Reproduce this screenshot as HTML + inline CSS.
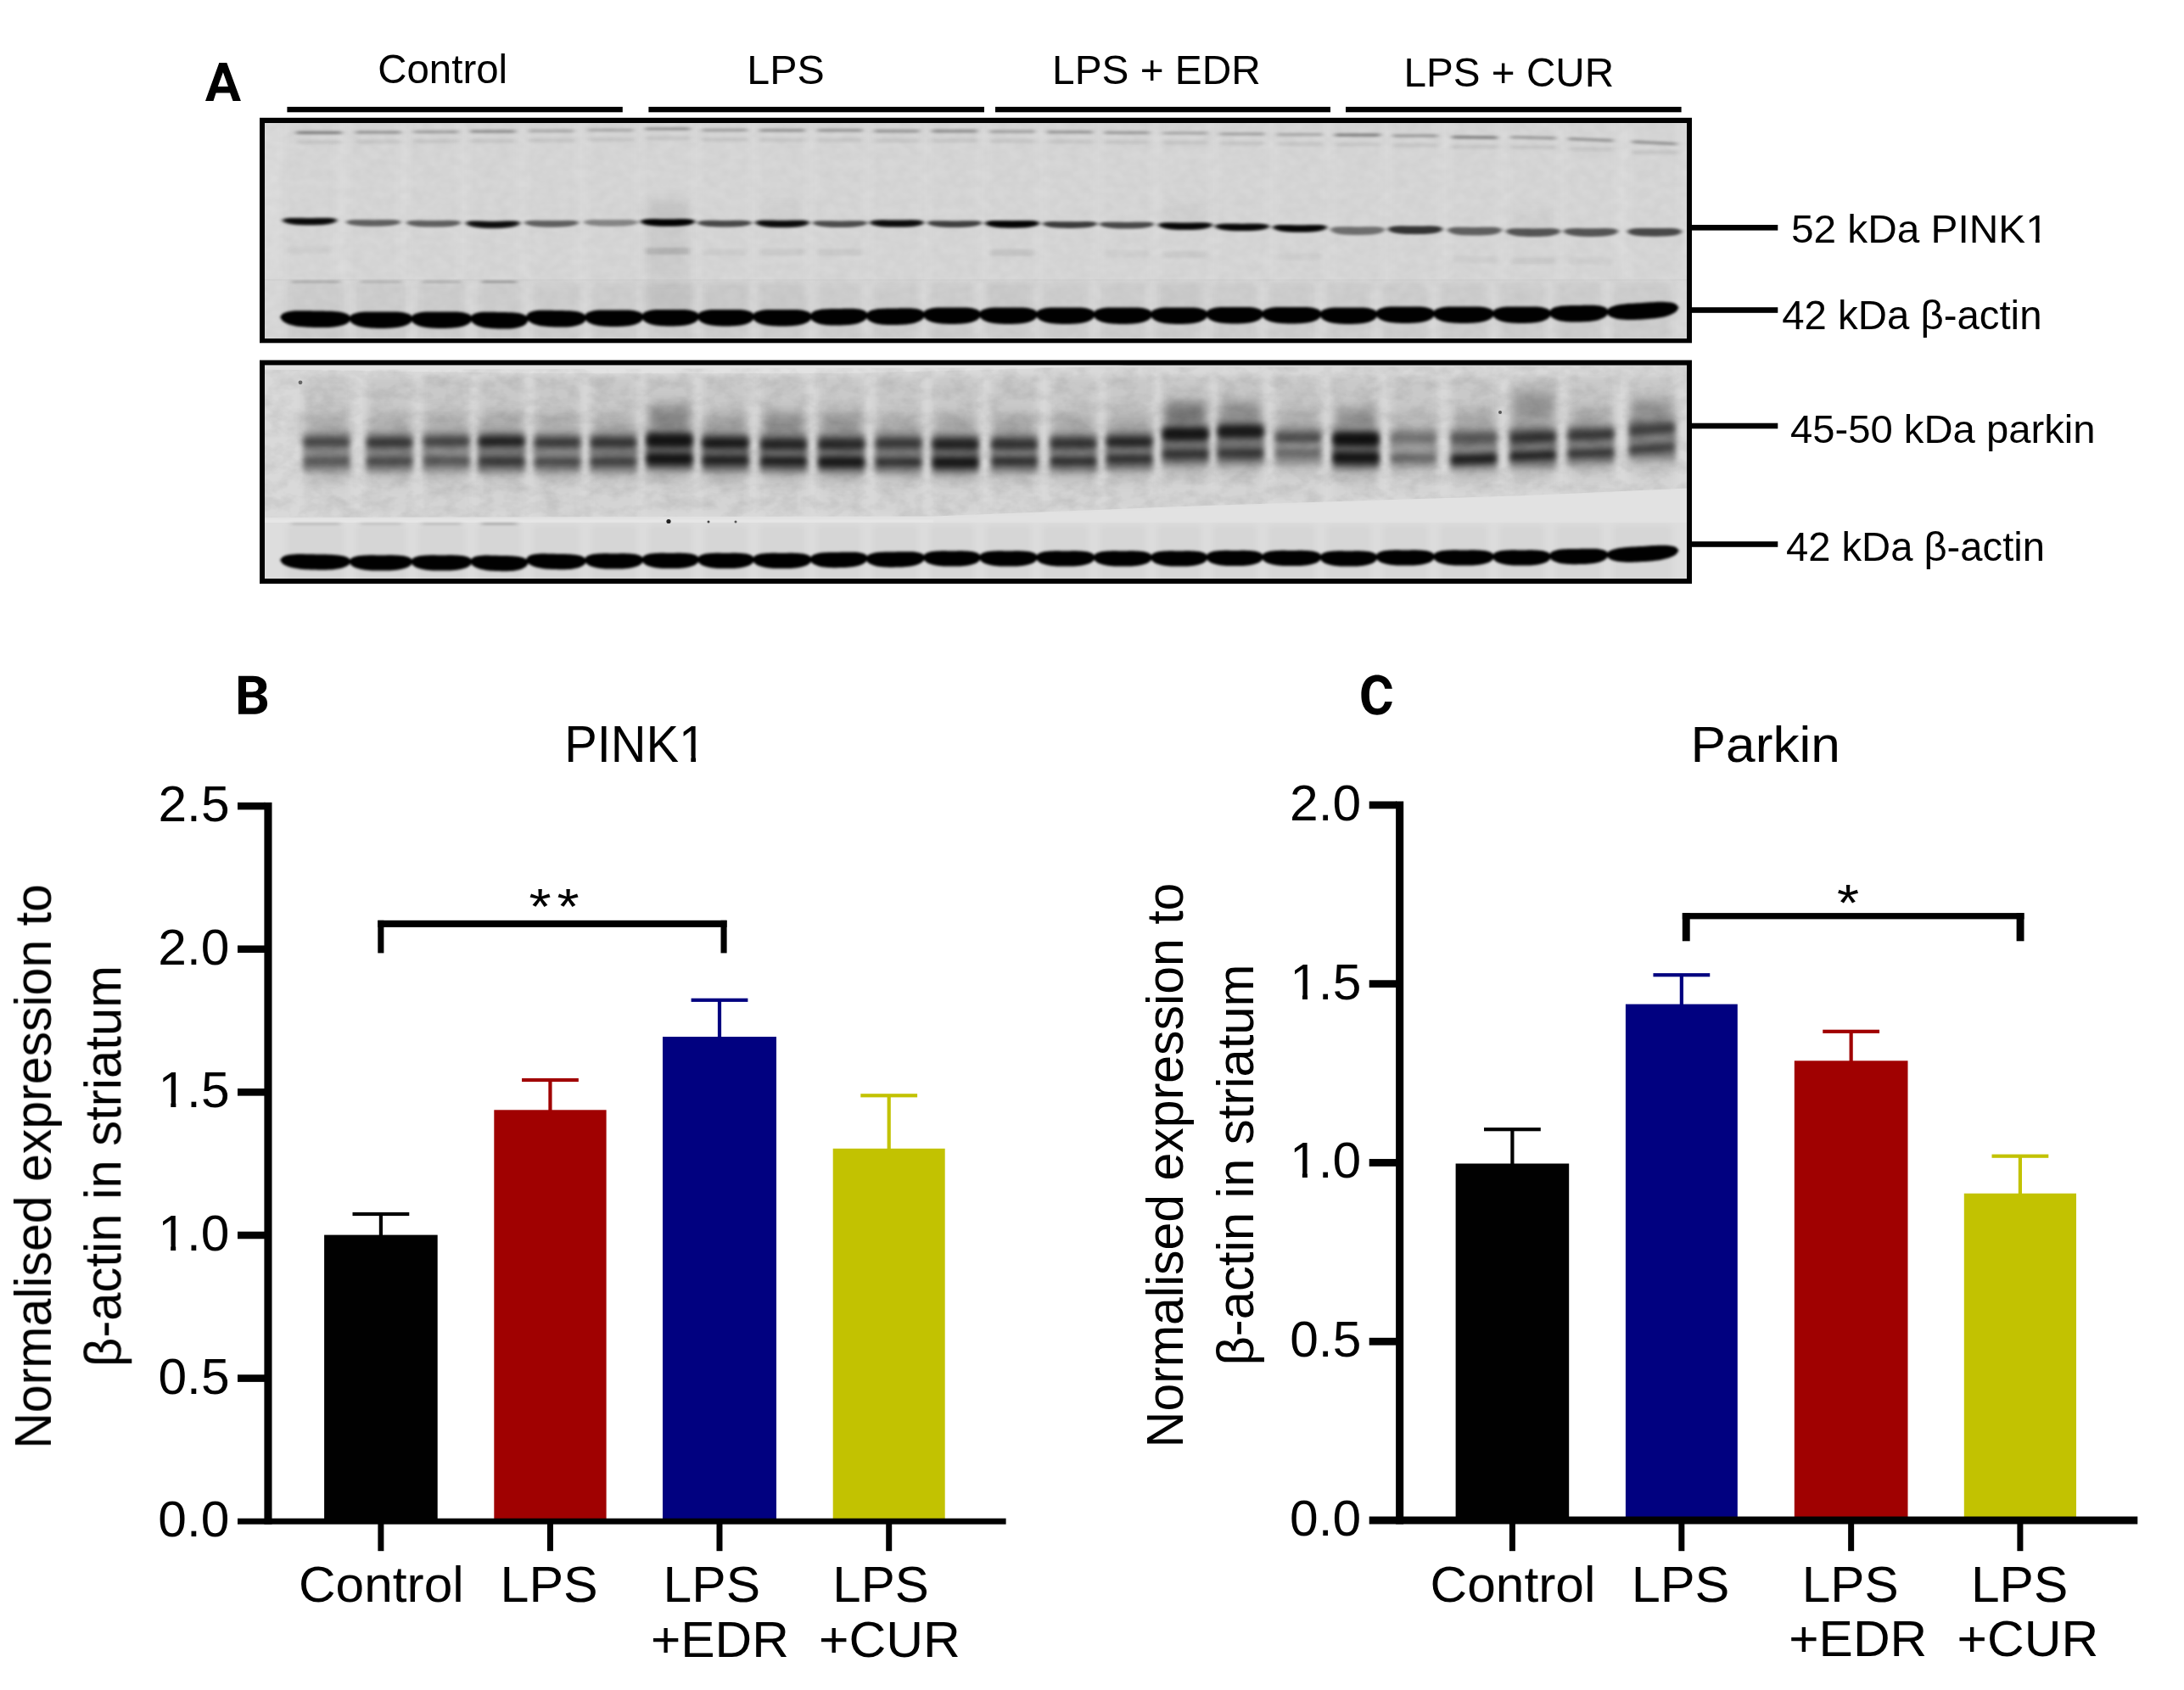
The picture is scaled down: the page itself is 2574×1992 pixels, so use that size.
<!DOCTYPE html>
<html lang="en"><head><meta charset="utf-8"><title>PINK1 / Parkin expression in striatum</title>
<style>
html,body{margin:0;padding:0;background:#fff;}
body{width:2574px;height:1992px;overflow:hidden;font-family:"Liberation Sans",sans-serif;}
svg{display:block;}
svg text{font-family:"Liberation Sans",sans-serif;font-size:100px;white-space:pre;}
</style></head>
<body>
<svg width="2574" height="1992" viewBox="0 0 2574 1992">
<rect width="2574" height="1992" fill="#fff"/>
<g style="opacity:.999">
<defs>
<clipPath id="c1"><rect x="312" y="145" width="1676" height="254"/></clipPath>
<clipPath id="cw"><path d="M312 436 L1988 431 L1988 575.5 L1800 584 L1420 596 L1100 608.5 L312 610 Z"/></clipPath>
<clipPath id="c2"><rect x="312" y="430.5" width="1676" height="251.5"/></clipPath>
<filter id="fa" filterUnits="userSpaceOnUse" x="280" y="120" width="1740" height="590"><feGaussianBlur stdDeviation="1.8 1.5"/></filter>
<filter id="fp" filterUnits="userSpaceOnUse" x="280" y="120" width="1740" height="590"><feGaussianBlur stdDeviation="2.6 1.5"/></filter>
<filter id="ft" filterUnits="userSpaceOnUse" x="280" y="120" width="1740" height="590"><feGaussianBlur stdDeviation="3.0 1.6"/></filter>
<filter id="fk" filterUnits="userSpaceOnUse" x="280" y="120" width="1740" height="590"><feGaussianBlur stdDeviation="3.4 3.0"/></filter>
<filter id="fh" filterUnits="userSpaceOnUse" x="280" y="120" width="1740" height="590"><feGaussianBlur stdDeviation="3.2 4.2"/></filter>
<filter id="fg" filterUnits="userSpaceOnUse" x="280" y="120" width="1740" height="590"><feGaussianBlur stdDeviation="6 7"/></filter>
<filter id="fs" filterUnits="userSpaceOnUse" x="280" y="120" width="1740" height="590"><feGaussianBlur stdDeviation="5 9"/></filter>
<filter id="fl" filterUnits="userSpaceOnUse" x="280" y="120" width="1740" height="590"><feGaussianBlur stdDeviation="4 3"/></filter>
<filter id="nz1" filterUnits="userSpaceOnUse" x="312" y="145" width="1676" height="254"><feTurbulence type="fractalNoise" baseFrequency="0.07 0.09" numOctaves="2" seed="7"/><feColorMatrix type="matrix" values="0 0 0 0 0  0 0 0 0 0  0 0 0 0 0  0.05 0 0 0 -0.012"/></filter>
<filter id="nz2" filterUnits="userSpaceOnUse" x="312" y="430" width="1676" height="186"><feTurbulence type="fractalNoise" baseFrequency="0.05 0.07" numOctaves="3" seed="11"/><feColorMatrix type="matrix" values="0 0 0 0 0  0 0 0 0 0  0 0 0 0 0  0.15 0 0 0 -0.055"/></filter>
</defs>
<!-- blot 1: PINK1 / beta-actin -->
<rect x="306" y="138.8" width="1688" height="265.5" fill="#000"/>
<rect x="312" y="145" width="1676" height="253.5" fill="#dcdcdc"/>
<g clip-path="url(#c1)">
<rect x="312" y="330" width="1676" height="69" fill="#d9d9d9"/>
<g filter="url(#fl)" fill="#000">
<rect x="335" y="140" width="60" height="190" opacity="0.022"/>
<rect x="338.6" y="333" width="67" height="70" opacity="0.05"/>
<rect x="410" y="140" width="60" height="190" opacity="0.022"/>
<rect x="419.6" y="333" width="58.8" height="70" opacity="0.05"/>
<rect x="481" y="140" width="60" height="190" opacity="0.022"/>
<rect x="492.4" y="333" width="56.1" height="70" opacity="0.05"/>
<rect x="551" y="140" width="60" height="190" opacity="0.022"/>
<rect x="562.5" y="333" width="51.9" height="70" opacity="0.05"/>
<rect x="620" y="140" width="60" height="190" opacity="0.022"/>
<rect x="628.4" y="333" width="54.6" height="70" opacity="0.05"/>
<rect x="690" y="140" width="60" height="190" opacity="0.022"/>
<rect x="697" y="333" width="53.4" height="70" opacity="0.05"/>
<rect x="757" y="140" width="60" height="190" opacity="0.022"/>
<rect x="764.4" y="333" width="51.6" height="70" opacity="0.05"/>
<rect x="824" y="140" width="60" height="190" opacity="0.022"/>
<rect x="830" y="333" width="51" height="70" opacity="0.05"/>
<rect x="892" y="140" width="60" height="190" opacity="0.022"/>
<rect x="895" y="333" width="53.8" height="70" opacity="0.05"/>
<rect x="960" y="140" width="60" height="190" opacity="0.022"/>
<rect x="962.8" y="333" width="51.9" height="70" opacity="0.05"/>
<rect x="1027" y="140" width="60" height="190" opacity="0.022"/>
<rect x="1028.7" y="333" width="53.3" height="70" opacity="0.05"/>
<rect x="1095" y="140" width="60" height="190" opacity="0.022"/>
<rect x="1096" y="333" width="52" height="70" opacity="0.05"/>
<rect x="1163" y="140" width="60" height="190" opacity="0.022"/>
<rect x="1162" y="333" width="53" height="70" opacity="0.05"/>
<rect x="1231" y="140" width="60" height="190" opacity="0.022"/>
<rect x="1229" y="333" width="53.6" height="70" opacity="0.05"/>
<rect x="1298" y="140" width="60" height="190" opacity="0.022"/>
<rect x="1296.6" y="333" width="53.4" height="70" opacity="0.05"/>
<rect x="1367" y="140" width="60" height="190" opacity="0.022"/>
<rect x="1364" y="333" width="51.5" height="70" opacity="0.05"/>
<rect x="1434" y="140" width="60" height="190" opacity="0.022"/>
<rect x="1429.5" y="333" width="51.5" height="70" opacity="0.05"/>
<rect x="1502" y="140" width="60" height="190" opacity="0.022"/>
<rect x="1495" y="333" width="54.6" height="70" opacity="0.05"/>
<rect x="1570" y="140" width="60" height="190" opacity="0.022"/>
<rect x="1563.6" y="333" width="51.9" height="70" opacity="0.05"/>
<rect x="1638" y="140" width="60" height="190" opacity="0.022"/>
<rect x="1629.5" y="333" width="53.5" height="70" opacity="0.05"/>
<rect x="1708" y="140" width="60" height="190" opacity="0.022"/>
<rect x="1697" y="333" width="56" height="70" opacity="0.05"/>
<rect x="1777" y="140" width="60" height="190" opacity="0.022"/>
<rect x="1767" y="333" width="53" height="70" opacity="0.05"/>
<rect x="1845" y="140" width="60" height="190" opacity="0.022"/>
<rect x="1834" y="333" width="53.5" height="70" opacity="0.05"/>
<rect x="1920" y="140" width="60" height="190" opacity="0.022"/>
<rect x="1901.5" y="333" width="68.5" height="70" opacity="0.05"/>
<rect x="757" y="333" width="60" height="34" opacity="0.05"/>
<rect x="824" y="333" width="60" height="34" opacity="0.02"/>
<rect x="892" y="333" width="60" height="34" opacity="0.02"/>
<rect x="1163" y="333" width="60" height="34" opacity="0.02"/>
<rect x="1367" y="333" width="60" height="34" opacity="0.02"/>
</g>
<rect x="312" y="329.4" width="1676" height="1" fill="#cfcfcf"/>
<rect x="312" y="145" width="1676" height="254" filter="url(#nz1)"/>
<g filter="url(#ft)" fill="#000">
<rect x="349" y="154.4" width="54" height="3.8" rx="1.9" opacity="0.39" transform="rotate(0 365 156)"/>
<rect x="349" y="165" width="54" height="5" rx="2.5" opacity="0.07"/>
<rect x="419" y="153.9" width="54" height="3.8" rx="1.9" opacity="0.28" transform="rotate(0 440 155.5)"/>
<rect x="419" y="164.5" width="54" height="5" rx="2.5" opacity="0.07"/>
<rect x="487" y="153.4" width="54" height="3.8" rx="1.9" opacity="0.24" transform="rotate(0 511 155)"/>
<rect x="487" y="164" width="54" height="5" rx="2.5" opacity="0.07"/>
<rect x="554" y="152.9" width="54" height="3.8" rx="1.9" opacity="0.31" transform="rotate(0 581 154.5)"/>
<rect x="554" y="163.5" width="54" height="5" rx="2.5" opacity="0.07"/>
<rect x="623" y="152.4" width="54" height="3.8" rx="1.9" opacity="0.20" transform="rotate(0 650 154)"/>
<rect x="623" y="163" width="54" height="5" rx="2.5" opacity="0.07"/>
<rect x="693" y="151.4" width="54" height="3.8" rx="1.9" opacity="0.20" transform="rotate(0 720 153)"/>
<rect x="693" y="162" width="54" height="5" rx="2.5" opacity="0.07"/>
<rect x="760" y="149.9" width="54" height="3.8" rx="1.9" opacity="0.28" transform="rotate(0 787 151.5)"/>
<rect x="760" y="160.5" width="54" height="5" rx="2.5" opacity="0.07"/>
<rect x="827" y="151.4" width="54" height="3.8" rx="1.9" opacity="0.24" transform="rotate(0 854 153)"/>
<rect x="827" y="162" width="54" height="5" rx="2.5" opacity="0.07"/>
<rect x="895" y="151.8" width="54" height="3.8" rx="1.9" opacity="0.29" transform="rotate(0 922 153.4)"/>
<rect x="895" y="162.4" width="54" height="5" rx="2.5" opacity="0.07"/>
<rect x="963" y="151.8" width="54" height="3.8" rx="1.9" opacity="0.28" transform="rotate(0 990 153.4)"/>
<rect x="963" y="162.4" width="54" height="5" rx="2.5" opacity="0.07"/>
<rect x="1030" y="152.6" width="54" height="3.8" rx="1.9" opacity="0.28" transform="rotate(0 1057 154.2)"/>
<rect x="1030" y="163.2" width="54" height="5" rx="2.5" opacity="0.07"/>
<rect x="1098" y="152.6" width="54" height="3.8" rx="1.9" opacity="0.31" transform="rotate(0 1125 154.2)"/>
<rect x="1098" y="163.2" width="54" height="5" rx="2.5" opacity="0.07"/>
<rect x="1166" y="153.1" width="54" height="3.8" rx="1.9" opacity="0.22" transform="rotate(0 1193 154.7)"/>
<rect x="1166" y="163.7" width="54" height="5" rx="2.5" opacity="0.07"/>
<rect x="1234" y="153.7" width="54" height="3.8" rx="1.9" opacity="0.28" transform="rotate(0 1261 155.3)"/>
<rect x="1234" y="164.3" width="54" height="5" rx="2.5" opacity="0.07"/>
<rect x="1301" y="154.4" width="54" height="3.8" rx="1.9" opacity="0.26" transform="rotate(0 1328 156)"/>
<rect x="1301" y="165" width="54" height="5" rx="2.5" opacity="0.07"/>
<rect x="1370" y="155" width="54" height="3.8" rx="1.9" opacity="0.20" transform="rotate(0 1397 156.6)"/>
<rect x="1370" y="165.6" width="54" height="5" rx="2.5" opacity="0.07"/>
<rect x="1437" y="155.9" width="54" height="3.8" rx="1.9" opacity="0.22" transform="rotate(0 1464 157.5)"/>
<rect x="1437" y="166.5" width="54" height="5" rx="2.5" opacity="0.07"/>
<rect x="1505" y="156.7" width="54" height="3.8" rx="1.9" opacity="0.20" transform="rotate(0 1532 158.3)"/>
<rect x="1505" y="167.3" width="54" height="5" rx="2.5" opacity="0.07"/>
<rect x="1573" y="157.2" width="54" height="3.8" rx="1.9" opacity="0.37" transform="rotate(0 1600 158.8)"/>
<rect x="1573" y="167.8" width="54" height="5" rx="2.5" opacity="0.07"/>
<rect x="1641" y="158.1" width="54" height="3.8" rx="1.9" opacity="0.24" transform="rotate(0 1668 159.7)"/>
<rect x="1641" y="168.7" width="54" height="5" rx="2.5" opacity="0.07"/>
<rect x="1711" y="160" width="54" height="3.8" rx="1.9" opacity="0.37" transform="rotate(0.72 1738 161.6)"/>
<rect x="1711" y="170.6" width="54" height="5" rx="2.5" opacity="0.07"/>
<rect x="1780" y="160.4" width="54" height="3.8" rx="1.9" opacity="0.26" transform="rotate(1.44 1807 162)"/>
<rect x="1780" y="171" width="54" height="5" rx="2.5" opacity="0.07"/>
<rect x="1848" y="162.7" width="54" height="3.8" rx="1.9" opacity="0.28" transform="rotate(2.16 1875 164.3)"/>
<rect x="1848" y="173.3" width="54" height="5" rx="2.5" opacity="0.07"/>
<rect x="1923" y="166.4" width="54" height="3.8" rx="1.9" opacity="0.29" transform="rotate(2.88 1950 168)"/>
<rect x="1923" y="177" width="54" height="5" rx="2.5" opacity="0.07"/>
</g>
<g filter="url(#fp)" fill="#000">
<path d="M332.5 259.62 L334.82 257.81 L337.14 257.24 L339.46 256.93 L341.79 256.76 L344.11 256.68 L346.43 256.66 L348.75 256.67 L351.07 256.71 L353.39 256.75 L355.71 256.81 L358.04 256.85 L360.36 256.89 L362.68 256.91 L365 256.92 L367.32 256.91 L369.64 256.89 L371.96 256.85 L374.29 256.81 L376.61 256.75 L378.93 256.71 L381.25 256.67 L383.57 256.66 L385.89 256.68 L388.21 256.76 L390.54 256.93 L392.86 257.24 L395.18 257.81 L397.5 259.62 L397.5 259.62 L395.18 261.88 L392.86 262.85 L390.54 263.53 L388.21 264.05 L385.89 264.44 L383.57 264.74 L381.25 264.97 L378.93 265.15 L376.61 265.28 L374.29 265.37 L371.96 265.44 L369.64 265.49 L367.32 265.51 L365 265.52 L362.68 265.51 L360.36 265.49 L358.04 265.44 L355.71 265.37 L353.39 265.28 L351.07 265.15 L348.75 264.97 L346.43 264.74 L344.11 264.44 L341.79 264.05 L339.46 263.53 L337.14 262.85 L334.82 261.88 L332.5 259.62Z" opacity="0.88"/>
<path d="M338 259.62 L339.93 258.7 L341.86 258.48 L343.79 258.39 L345.71 258.37 L347.64 258.39 L349.57 258.44 L351.5 258.5 L353.43 258.57 L355.36 258.64 L357.29 258.7 L359.21 258.75 L361.14 258.79 L363.07 258.81 L365 258.82 L366.93 258.81 L368.86 258.79 L370.79 258.75 L372.71 258.7 L374.64 258.64 L376.57 258.57 L378.5 258.5 L380.43 258.44 L382.36 258.39 L384.29 258.37 L386.21 258.39 L388.14 258.48 L390.07 258.7 L392 259.62 L392 259.62 L390.07 260.98 L388.14 261.61 L386.21 262.08 L384.29 262.44 L382.36 262.72 L380.43 262.95 L378.5 263.14 L376.57 263.28 L374.64 263.39 L372.71 263.48 L370.79 263.54 L368.86 263.59 L366.93 263.61 L365 263.62 L363.07 263.61 L361.14 263.59 L359.21 263.54 L357.29 263.48 L355.36 263.39 L353.43 263.28 L351.5 263.14 L349.57 262.95 L347.64 262.72 L345.71 262.44 L343.79 262.08 L341.86 261.61 L339.93 260.98 L338 259.62Z" opacity="0.7"/>
<path d="M407.5 261.74 L409.82 260.11 L412.14 259.58 L414.46 259.28 L416.79 259.11 L419.11 259.02 L421.43 258.98 L423.75 258.97 L426.07 258.99 L428.39 259.02 L430.71 259.06 L433.04 259.09 L435.36 259.12 L437.68 259.13 L440 259.14 L442.32 259.13 L444.64 259.12 L446.96 259.09 L449.29 259.06 L451.61 259.02 L453.93 258.99 L456.25 258.97 L458.57 258.98 L460.89 259.02 L463.21 259.11 L465.54 259.28 L467.86 259.58 L470.18 260.11 L472.5 261.74 L472.5 261.74 L470.18 263.7 L467.86 264.54 L465.54 265.12 L463.21 265.55 L460.89 265.87 L458.57 266.12 L456.25 266.31 L453.93 266.45 L451.61 266.55 L449.29 266.63 L446.96 266.68 L444.64 266.71 L442.32 266.73 L440 266.74 L437.68 266.73 L435.36 266.71 L433.04 266.68 L430.71 266.63 L428.39 266.55 L426.07 266.45 L423.75 266.31 L421.43 266.12 L419.11 265.87 L416.79 265.55 L414.46 265.12 L412.14 264.54 L409.82 263.7 L407.5 261.74Z" opacity="0.55"/>
<path d="M478.5 262.43 L480.82 260.82 L483.14 260.32 L485.46 260.05 L487.79 259.9 L490.11 259.82 L492.43 259.8 L494.75 259.81 L497.07 259.84 L499.39 259.89 L501.71 259.93 L504.04 259.97 L506.36 260 L508.68 260.02 L511 260.03 L513.32 260.02 L515.64 260 L517.96 259.97 L520.29 259.93 L522.61 259.89 L524.93 259.84 L527.25 259.81 L529.57 259.8 L531.89 259.82 L534.21 259.9 L536.54 260.05 L538.86 260.32 L541.18 260.82 L543.5 262.43 L543.5 262.43 L541.18 264.42 L538.86 265.28 L536.54 265.88 L534.21 266.34 L531.89 266.68 L529.57 266.94 L527.25 267.15 L524.93 267.3 L522.61 267.42 L520.29 267.5 L517.96 267.56 L515.64 267.6 L513.32 267.62 L511 267.63 L508.68 267.62 L506.36 267.6 L504.04 267.56 L501.71 267.5 L499.39 267.42 L497.07 267.3 L494.75 267.15 L492.43 266.94 L490.11 266.68 L487.79 266.34 L485.46 265.88 L483.14 265.28 L480.82 264.42 L478.5 262.43Z" opacity="0.55"/>
<path d="M548.5 262.79 L550.82 261.06 L553.14 260.57 L555.46 260.33 L557.79 260.22 L560.11 260.2 L562.43 260.23 L564.75 260.29 L567.07 260.37 L569.39 260.45 L571.71 260.53 L574.04 260.59 L576.36 260.65 L578.68 260.68 L581 260.69 L583.32 260.68 L585.64 260.65 L587.96 260.59 L590.29 260.53 L592.61 260.45 L594.93 260.37 L597.25 260.29 L599.57 260.23 L601.89 260.2 L604.21 260.22 L606.54 260.33 L608.86 260.57 L611.18 261.06 L613.5 262.79 L613.5 262.79 L611.18 265.13 L608.86 266.18 L606.54 266.93 L604.21 267.51 L601.89 267.96 L599.57 268.31 L597.25 268.59 L594.93 268.81 L592.61 268.97 L590.29 269.09 L587.96 269.18 L585.64 269.24 L583.32 269.28 L581 269.29 L578.68 269.28 L576.36 269.24 L574.04 269.18 L571.71 269.09 L569.39 268.97 L567.07 268.81 L564.75 268.59 L562.43 268.31 L560.11 267.96 L557.79 267.51 L555.46 266.93 L553.14 266.18 L550.82 265.13 L548.5 262.79Z" opacity="0.82"/>
<path d="M554 262.79 L555.93 261.96 L557.86 261.81 L559.79 261.79 L561.71 261.83 L563.64 261.92 L565.57 262.02 L567.5 262.12 L569.43 262.23 L571.36 262.33 L573.29 262.42 L575.21 262.49 L577.14 262.55 L579.07 262.58 L581 262.59 L582.93 262.58 L584.86 262.55 L586.79 262.49 L588.71 262.42 L590.64 262.33 L592.57 262.23 L594.5 262.12 L596.43 262.02 L598.36 261.92 L600.29 261.83 L602.21 261.79 L604.14 261.81 L606.07 261.96 L608 262.79 L608 262.79 L606.07 264.23 L604.14 264.94 L602.21 265.48 L600.29 265.9 L598.36 266.25 L596.43 266.53 L594.5 266.76 L592.57 266.94 L590.64 267.09 L588.71 267.2 L586.79 267.29 L584.86 267.34 L582.93 267.38 L581 267.39 L579.07 267.38 L577.14 267.34 L575.21 267.29 L573.29 267.2 L571.36 267.09 L569.43 266.94 L567.5 266.76 L565.57 266.53 L563.64 266.25 L561.71 265.9 L559.79 265.48 L557.86 264.94 L555.93 264.23 L554 262.79Z" opacity="0.7"/>
<path d="M617.5 262.32 L619.82 260.74 L622.14 260.26 L624.46 260.01 L626.79 259.88 L629.11 259.83 L631.43 259.83 L633.75 259.85 L636.07 259.9 L638.39 259.95 L640.71 260 L643.04 260.05 L645.36 260.09 L647.68 260.11 L650 260.12 L652.32 260.11 L654.64 260.09 L656.96 260.05 L659.29 260 L661.61 259.95 L663.93 259.9 L666.25 259.85 L668.57 259.83 L670.89 259.83 L673.21 259.88 L675.54 260.01 L677.86 260.26 L680.18 260.74 L682.5 262.32 L682.5 262.32 L680.18 264.34 L677.86 265.22 L675.54 265.85 L673.21 266.32 L670.89 266.69 L668.57 266.97 L666.25 267.19 L663.93 267.36 L661.61 267.48 L659.29 267.58 L656.96 267.64 L654.64 267.69 L652.32 267.71 L650 267.72 L647.68 267.71 L645.36 267.69 L643.04 267.64 L640.71 267.58 L638.39 267.48 L636.07 267.36 L633.75 267.19 L631.43 266.97 L629.11 266.69 L626.79 266.32 L624.46 265.85 L622.14 265.22 L619.82 264.34 L617.5 262.32Z" opacity="0.55"/>
<path d="M687.5 261.85 L689.82 260.19 L692.14 259.64 L694.46 259.31 L696.79 259.12 L699.11 259.01 L701.43 258.95 L703.75 258.93 L706.07 258.94 L708.39 258.96 L710.71 258.98 L713.04 259.01 L715.36 259.03 L717.68 259.04 L720 259.05 L722.32 259.04 L724.64 259.03 L726.96 259.01 L729.29 258.98 L731.61 258.96 L733.93 258.94 L736.25 258.93 L738.57 258.95 L740.89 259.01 L743.21 259.12 L745.54 259.31 L747.86 259.64 L750.18 260.19 L752.5 261.85 L752.5 261.85 L750.18 263.79 L747.86 264.6 L745.54 265.15 L743.21 265.56 L740.89 265.86 L738.57 266.09 L736.25 266.27 L733.93 266.4 L731.61 266.49 L729.29 266.55 L726.96 266.6 L724.64 266.63 L722.32 266.64 L720 266.65 L717.68 266.64 L715.36 266.63 L713.04 266.6 L710.71 266.55 L708.39 266.49 L706.07 266.4 L703.75 266.27 L701.43 266.09 L699.11 265.86 L696.79 265.56 L694.46 265.15 L692.14 264.6 L689.82 263.79 L687.5 261.85Z" opacity="0.38"/>
<path d="M754.5 261.13 L756.82 259.29 L759.14 258.7 L761.46 258.36 L763.79 258.17 L766.11 258.07 L768.43 258.03 L770.75 258.03 L773.07 258.05 L775.39 258.09 L777.71 258.13 L780.04 258.17 L782.36 258.2 L784.68 258.22 L787 258.23 L789.32 258.22 L791.64 258.2 L793.96 258.17 L796.29 258.13 L798.61 258.09 L800.93 258.05 L803.25 258.03 L805.57 258.03 L807.89 258.07 L810.21 258.17 L812.54 258.36 L814.86 258.7 L817.18 259.29 L819.5 261.13 L819.5 261.13 L817.18 263.36 L814.86 264.31 L812.54 264.97 L810.21 265.46 L807.89 265.83 L805.57 266.11 L803.25 266.33 L800.93 266.49 L798.61 266.61 L796.29 266.7 L793.96 266.76 L791.64 266.8 L789.32 266.82 L787 266.83 L784.68 266.82 L782.36 266.8 L780.04 266.76 L777.71 266.7 L775.39 266.61 L773.07 266.49 L770.75 266.33 L768.43 266.11 L766.11 265.83 L763.79 265.46 L761.46 264.97 L759.14 264.31 L756.82 263.36 L754.5 261.13Z" opacity="0.97"/>
<path d="M760 261.13 L761.93 260.19 L763.86 259.94 L765.79 259.82 L767.71 259.78 L769.64 259.79 L771.57 259.82 L773.5 259.86 L775.43 259.92 L777.36 259.97 L779.29 260.02 L781.21 260.07 L783.14 260.1 L785.07 260.12 L787 260.13 L788.93 260.12 L790.86 260.1 L792.79 260.07 L794.71 260.02 L796.64 259.97 L798.57 259.92 L800.5 259.86 L802.43 259.82 L804.36 259.79 L806.29 259.78 L808.21 259.82 L810.14 259.94 L812.07 260.19 L814 261.13 L814 261.13 L812.07 262.46 L810.14 263.07 L808.21 263.51 L806.29 263.85 L804.36 264.12 L802.43 264.33 L800.5 264.5 L798.57 264.63 L796.64 264.73 L794.71 264.81 L792.79 264.86 L790.86 264.9 L788.93 264.92 L787 264.93 L785.07 264.92 L783.14 264.9 L781.21 264.86 L779.29 264.81 L777.36 264.73 L775.43 264.63 L773.5 264.5 L771.57 264.33 L769.64 264.12 L767.71 263.85 L765.79 263.51 L763.86 263.07 L761.93 262.46 L760 261.13Z" opacity="0.7"/>
<path d="M821.5 262.54 L823.82 260.91 L826.14 260.38 L828.46 260.08 L830.79 259.91 L833.11 259.82 L835.43 259.78 L837.75 259.77 L840.07 259.79 L842.39 259.82 L844.71 259.86 L847.04 259.89 L849.36 259.92 L851.68 259.93 L854 259.94 L856.32 259.93 L858.64 259.92 L860.96 259.89 L863.29 259.86 L865.61 259.82 L867.93 259.79 L870.25 259.77 L872.57 259.78 L874.89 259.82 L877.21 259.91 L879.54 260.08 L881.86 260.38 L884.18 260.91 L886.5 262.54 L886.5 262.54 L884.18 264.5 L881.86 265.34 L879.54 265.92 L877.21 266.35 L874.89 266.67 L872.57 266.92 L870.25 267.11 L867.93 267.25 L865.61 267.35 L863.29 267.43 L860.96 267.48 L858.64 267.51 L856.32 267.53 L854 267.54 L851.68 267.53 L849.36 267.51 L847.04 267.48 L844.71 267.43 L842.39 267.35 L840.07 267.25 L837.75 267.11 L835.43 266.92 L833.11 266.67 L830.79 266.35 L828.46 265.92 L826.14 265.34 L823.82 264.5 L821.5 262.54Z" opacity="0.66"/>
<path d="M889.5 262.21 L891.82 260.42 L894.14 259.88 L896.46 259.6 L898.79 259.45 L901.11 259.39 L903.43 259.38 L905.75 259.41 L908.07 259.46 L910.39 259.52 L912.71 259.58 L915.04 259.63 L917.36 259.67 L919.68 259.7 L922 259.71 L924.32 259.7 L926.64 259.67 L928.96 259.63 L931.29 259.58 L933.61 259.52 L935.93 259.46 L938.25 259.41 L940.57 259.38 L942.89 259.39 L945.21 259.45 L947.54 259.6 L949.86 259.88 L952.18 260.42 L954.5 262.21 L954.5 262.21 L952.18 264.49 L949.86 265.49 L947.54 266.2 L945.21 266.73 L942.89 267.15 L940.57 267.46 L938.25 267.71 L935.93 267.9 L933.61 268.04 L931.29 268.15 L928.96 268.22 L926.64 268.27 L924.32 268.3 L922 268.31 L919.68 268.3 L917.36 268.27 L915.04 268.22 L912.71 268.15 L910.39 268.04 L908.07 267.9 L905.75 267.71 L903.43 267.46 L901.11 267.15 L898.79 266.73 L896.46 266.2 L894.14 265.49 L891.82 264.49 L889.5 262.21Z" opacity="0.86"/>
<path d="M895 262.21 L896.93 261.32 L898.86 261.12 L900.79 261.06 L902.71 261.06 L904.64 261.1 L906.57 261.17 L908.5 261.24 L910.43 261.32 L912.36 261.4 L914.29 261.47 L916.21 261.53 L918.14 261.57 L920.07 261.6 L922 261.61 L923.93 261.6 L925.86 261.57 L927.79 261.53 L929.71 261.47 L931.64 261.4 L933.57 261.32 L935.5 261.24 L937.43 261.17 L939.36 261.1 L941.29 261.06 L943.21 261.06 L945.14 261.12 L947.07 261.32 L949 262.21 L949 262.21 L947.07 263.59 L945.14 264.25 L943.21 264.74 L941.29 265.12 L939.36 265.43 L937.43 265.68 L935.5 265.88 L933.57 266.03 L931.64 266.16 L929.71 266.25 L927.79 266.32 L925.86 266.37 L923.93 266.4 L922 266.41 L920.07 266.4 L918.14 266.37 L916.21 266.32 L914.29 266.25 L912.36 266.16 L910.43 266.03 L908.5 265.88 L906.57 265.68 L904.64 265.43 L902.71 265.12 L900.79 264.74 L898.86 264.25 L896.93 263.59 L895 262.21Z" opacity="0.7"/>
<path d="M957.5 262.62 L959.82 261.04 L962.14 260.56 L964.46 260.31 L966.79 260.18 L969.11 260.13 L971.43 260.13 L973.75 260.15 L976.07 260.2 L978.39 260.25 L980.71 260.3 L983.04 260.35 L985.36 260.39 L987.68 260.41 L990 260.42 L992.32 260.41 L994.64 260.39 L996.96 260.35 L999.29 260.3 L1001.61 260.25 L1003.93 260.2 L1006.25 260.15 L1008.57 260.13 L1010.89 260.13 L1013.21 260.18 L1015.54 260.31 L1017.86 260.56 L1020.18 261.04 L1022.5 262.62 L1022.5 262.62 L1020.18 264.64 L1017.86 265.52 L1015.54 266.15 L1013.21 266.62 L1010.89 266.99 L1008.57 267.27 L1006.25 267.49 L1003.93 267.66 L1001.61 267.78 L999.29 267.88 L996.96 267.94 L994.64 267.99 L992.32 268.01 L990 268.02 L987.68 268.01 L985.36 267.99 L983.04 267.94 L980.71 267.88 L978.39 267.78 L976.07 267.66 L973.75 267.49 L971.43 267.27 L969.11 266.99 L966.79 266.62 L964.46 266.15 L962.14 265.52 L959.82 264.64 L957.5 262.62Z" opacity="0.64"/>
<path d="M1024.5 262.34 L1026.82 260.47 L1029.14 259.85 L1031.46 259.5 L1033.79 259.28 L1036.11 259.16 L1038.43 259.11 L1040.75 259.09 L1043.07 259.1 L1045.39 259.13 L1047.71 259.16 L1050.04 259.19 L1052.36 259.22 L1054.68 259.23 L1057 259.24 L1059.32 259.23 L1061.64 259.22 L1063.96 259.19 L1066.29 259.16 L1068.61 259.13 L1070.93 259.1 L1073.25 259.09 L1075.57 259.11 L1077.89 259.16 L1080.21 259.28 L1082.54 259.5 L1084.86 259.85 L1087.18 260.47 L1089.5 262.34 L1089.5 262.34 L1087.18 264.54 L1084.86 265.46 L1082.54 266.1 L1080.21 266.57 L1077.89 266.92 L1075.57 267.19 L1073.25 267.39 L1070.93 267.54 L1068.61 267.65 L1066.29 267.73 L1063.96 267.78 L1061.64 267.81 L1059.32 267.83 L1057 267.84 L1054.68 267.83 L1052.36 267.81 L1050.04 267.78 L1047.71 267.73 L1045.39 267.65 L1043.07 267.54 L1040.75 267.39 L1038.43 267.19 L1036.11 266.92 L1033.79 266.57 L1031.46 266.1 L1029.14 265.46 L1026.82 264.54 L1024.5 262.34Z" opacity="0.86"/>
<path d="M1030 262.34 L1031.93 261.37 L1033.86 261.09 L1035.79 260.96 L1037.71 260.89 L1039.64 260.88 L1041.57 260.89 L1043.5 260.92 L1045.43 260.96 L1047.36 261.01 L1049.29 261.05 L1051.21 261.09 L1053.14 261.12 L1055.07 261.13 L1057 261.14 L1058.93 261.13 L1060.86 261.12 L1062.79 261.09 L1064.71 261.05 L1066.64 261.01 L1068.57 260.96 L1070.5 260.92 L1072.43 260.89 L1074.36 260.88 L1076.29 260.89 L1078.21 260.96 L1080.14 261.09 L1082.07 261.37 L1084 262.34 L1084 262.34 L1082.07 263.64 L1080.14 264.22 L1078.21 264.64 L1076.29 264.96 L1074.36 265.21 L1072.43 265.4 L1070.5 265.56 L1068.57 265.67 L1066.64 265.77 L1064.71 265.83 L1062.79 265.88 L1060.86 265.91 L1058.93 265.93 L1057 265.94 L1055.07 265.93 L1053.14 265.91 L1051.21 265.88 L1049.29 265.83 L1047.36 265.77 L1045.43 265.67 L1043.5 265.56 L1041.57 265.4 L1039.64 265.21 L1037.71 264.96 L1035.79 264.64 L1033.86 264.22 L1031.93 263.64 L1030 262.34Z" opacity="0.7"/>
<path d="M1092.5 262.62 L1094.82 261.04 L1097.14 260.56 L1099.46 260.31 L1101.79 260.18 L1104.11 260.13 L1106.43 260.13 L1108.75 260.15 L1111.07 260.2 L1113.39 260.25 L1115.71 260.3 L1118.04 260.35 L1120.36 260.39 L1122.68 260.41 L1125 260.42 L1127.32 260.41 L1129.64 260.39 L1131.96 260.35 L1134.29 260.3 L1136.61 260.25 L1138.93 260.2 L1141.25 260.15 L1143.57 260.13 L1145.89 260.13 L1148.21 260.18 L1150.54 260.31 L1152.86 260.56 L1155.18 261.04 L1157.5 262.62 L1157.5 262.62 L1155.18 264.64 L1152.86 265.52 L1150.54 266.15 L1148.21 266.62 L1145.89 266.99 L1143.57 267.27 L1141.25 267.49 L1138.93 267.66 L1136.61 267.78 L1134.29 267.88 L1131.96 267.94 L1129.64 267.99 L1127.32 268.01 L1125 268.02 L1122.68 268.01 L1120.36 267.99 L1118.04 267.94 L1115.71 267.88 L1113.39 267.78 L1111.07 267.66 L1108.75 267.49 L1106.43 267.27 L1104.11 266.99 L1101.79 266.62 L1099.46 266.15 L1097.14 265.52 L1094.82 264.64 L1092.5 262.62Z" opacity="0.7"/>
<path d="M1160.5 263.03 L1162.82 261.19 L1165.14 260.6 L1167.46 260.26 L1169.79 260.07 L1172.11 259.97 L1174.43 259.93 L1176.75 259.93 L1179.07 259.95 L1181.39 259.99 L1183.71 260.03 L1186.04 260.07 L1188.36 260.1 L1190.68 260.12 L1193 260.13 L1195.32 260.12 L1197.64 260.1 L1199.96 260.07 L1202.29 260.03 L1204.61 259.99 L1206.93 259.95 L1209.25 259.93 L1211.57 259.93 L1213.89 259.97 L1216.21 260.07 L1218.54 260.26 L1220.86 260.6 L1223.18 261.19 L1225.5 263.03 L1225.5 263.03 L1223.18 265.26 L1220.86 266.21 L1218.54 266.87 L1216.21 267.36 L1213.89 267.73 L1211.57 268.01 L1209.25 268.23 L1206.93 268.39 L1204.61 268.51 L1202.29 268.6 L1199.96 268.66 L1197.64 268.7 L1195.32 268.72 L1193 268.73 L1190.68 268.72 L1188.36 268.7 L1186.04 268.66 L1183.71 268.6 L1181.39 268.51 L1179.07 268.39 L1176.75 268.23 L1174.43 268.01 L1172.11 267.73 L1169.79 267.36 L1167.46 266.87 L1165.14 266.21 L1162.82 265.26 L1160.5 263.03Z" opacity="0.95"/>
<path d="M1166 263.03 L1167.93 262.09 L1169.86 261.84 L1171.79 261.72 L1173.71 261.68 L1175.64 261.69 L1177.57 261.72 L1179.5 261.76 L1181.43 261.82 L1183.36 261.87 L1185.29 261.92 L1187.21 261.97 L1189.14 262 L1191.07 262.02 L1193 262.03 L1194.93 262.02 L1196.86 262 L1198.79 261.97 L1200.71 261.92 L1202.64 261.87 L1204.57 261.82 L1206.5 261.76 L1208.43 261.72 L1210.36 261.69 L1212.29 261.68 L1214.21 261.72 L1216.14 261.84 L1218.07 262.09 L1220 263.03 L1220 263.03 L1218.07 264.36 L1216.14 264.97 L1214.21 265.41 L1212.29 265.75 L1210.36 266.02 L1208.43 266.23 L1206.5 266.4 L1204.57 266.53 L1202.64 266.63 L1200.71 266.71 L1198.79 266.76 L1196.86 266.8 L1194.93 266.82 L1193 266.83 L1191.07 266.82 L1189.14 266.8 L1187.21 266.76 L1185.29 266.71 L1183.36 266.63 L1181.43 266.53 L1179.5 266.4 L1177.57 266.23 L1175.64 266.02 L1173.71 265.75 L1171.79 265.41 L1169.86 264.97 L1167.93 264.36 L1166 263.03Z" opacity="0.7"/>
<path d="M1228.5 263.73 L1230.82 262.12 L1233.14 261.62 L1235.46 261.35 L1237.79 261.2 L1240.11 261.12 L1242.43 261.1 L1244.75 261.11 L1247.07 261.14 L1249.39 261.19 L1251.71 261.23 L1254.04 261.27 L1256.36 261.3 L1258.68 261.32 L1261 261.33 L1263.32 261.32 L1265.64 261.3 L1267.96 261.27 L1270.29 261.23 L1272.61 261.19 L1274.93 261.14 L1277.25 261.11 L1279.57 261.1 L1281.89 261.12 L1284.21 261.2 L1286.54 261.35 L1288.86 261.62 L1291.18 262.12 L1293.5 263.73 L1293.5 263.73 L1291.18 265.72 L1288.86 266.58 L1286.54 267.18 L1284.21 267.64 L1281.89 267.98 L1279.57 268.24 L1277.25 268.45 L1274.93 268.6 L1272.61 268.72 L1270.29 268.8 L1267.96 268.86 L1265.64 268.9 L1263.32 268.92 L1261 268.93 L1258.68 268.92 L1256.36 268.9 L1254.04 268.86 L1251.71 268.8 L1249.39 268.72 L1247.07 268.6 L1244.75 268.45 L1242.43 268.24 L1240.11 267.98 L1237.79 267.64 L1235.46 267.18 L1233.14 266.58 L1230.82 265.72 L1228.5 263.73Z" opacity="0.72"/>
<path d="M1295.5 264.12 L1297.82 262.54 L1300.14 262.06 L1302.46 261.81 L1304.79 261.68 L1307.11 261.63 L1309.43 261.63 L1311.75 261.65 L1314.07 261.7 L1316.39 261.75 L1318.71 261.8 L1321.04 261.85 L1323.36 261.89 L1325.68 261.91 L1328 261.92 L1330.32 261.91 L1332.64 261.89 L1334.96 261.85 L1337.29 261.8 L1339.61 261.75 L1341.93 261.7 L1344.25 261.65 L1346.57 261.63 L1348.89 261.63 L1351.21 261.68 L1353.54 261.81 L1355.86 262.06 L1358.18 262.54 L1360.5 264.12 L1360.5 264.12 L1358.18 266.14 L1355.86 267.02 L1353.54 267.65 L1351.21 268.12 L1348.89 268.49 L1346.57 268.77 L1344.25 268.99 L1341.93 269.16 L1339.61 269.28 L1337.29 269.38 L1334.96 269.44 L1332.64 269.49 L1330.32 269.51 L1328 269.52 L1325.68 269.51 L1323.36 269.49 L1321.04 269.44 L1318.71 269.38 L1316.39 269.28 L1314.07 269.16 L1311.75 268.99 L1309.43 268.77 L1307.11 268.49 L1304.79 268.12 L1302.46 267.65 L1300.14 267.02 L1297.82 266.14 L1295.5 264.12Z" opacity="0.66"/>
<path d="M1364.5 265.01 L1366.82 263.22 L1369.14 262.68 L1371.46 262.4 L1373.79 262.25 L1376.11 262.19 L1378.43 262.18 L1380.75 262.21 L1383.07 262.26 L1385.39 262.32 L1387.71 262.38 L1390.04 262.43 L1392.36 262.47 L1394.68 262.5 L1397 262.51 L1399.32 262.5 L1401.64 262.47 L1403.96 262.43 L1406.29 262.38 L1408.61 262.32 L1410.93 262.26 L1413.25 262.21 L1415.57 262.18 L1417.89 262.19 L1420.21 262.25 L1422.54 262.4 L1424.86 262.68 L1427.18 263.22 L1429.5 265.01 L1429.5 265.01 L1427.18 267.29 L1424.86 268.29 L1422.54 269 L1420.21 269.53 L1417.89 269.95 L1415.57 270.26 L1413.25 270.51 L1410.93 270.7 L1408.61 270.84 L1406.29 270.95 L1403.96 271.02 L1401.64 271.07 L1399.32 271.1 L1397 271.11 L1394.68 271.1 L1392.36 271.07 L1390.04 271.02 L1387.71 270.95 L1385.39 270.84 L1383.07 270.7 L1380.75 270.51 L1378.43 270.26 L1376.11 269.95 L1373.79 269.53 L1371.46 269 L1369.14 268.29 L1366.82 267.29 L1364.5 265.01Z" opacity="0.9"/>
<path d="M1370 265.01 L1371.93 264.12 L1373.86 263.92 L1375.79 263.86 L1377.71 263.86 L1379.64 263.9 L1381.57 263.97 L1383.5 264.04 L1385.43 264.12 L1387.36 264.2 L1389.29 264.27 L1391.21 264.33 L1393.14 264.37 L1395.07 264.4 L1397 264.41 L1398.93 264.4 L1400.86 264.37 L1402.79 264.33 L1404.71 264.27 L1406.64 264.2 L1408.57 264.12 L1410.5 264.04 L1412.43 263.97 L1414.36 263.9 L1416.29 263.86 L1418.21 263.86 L1420.14 263.92 L1422.07 264.12 L1424 265.01 L1424 265.01 L1422.07 266.39 L1420.14 267.05 L1418.21 267.54 L1416.29 267.92 L1414.36 268.23 L1412.43 268.48 L1410.5 268.68 L1408.57 268.83 L1406.64 268.96 L1404.71 269.05 L1402.79 269.12 L1400.86 269.17 L1398.93 269.2 L1397 269.21 L1395.07 269.2 L1393.14 269.17 L1391.21 269.12 L1389.29 269.05 L1387.36 268.96 L1385.43 268.83 L1383.5 268.68 L1381.57 268.48 L1379.64 268.23 L1377.71 267.92 L1375.79 267.54 L1373.86 267.05 L1371.93 266.39 L1370 265.01Z" opacity="0.7"/>
<path d="M1431.5 266.74 L1433.82 264.87 L1436.14 264.25 L1438.46 263.9 L1440.79 263.68 L1443.11 263.56 L1445.43 263.51 L1447.75 263.49 L1450.07 263.5 L1452.39 263.53 L1454.71 263.56 L1457.04 263.59 L1459.36 263.62 L1461.68 263.63 L1464 263.64 L1466.32 263.63 L1468.64 263.62 L1470.96 263.59 L1473.29 263.56 L1475.61 263.53 L1477.93 263.5 L1480.25 263.49 L1482.57 263.51 L1484.89 263.56 L1487.21 263.68 L1489.54 263.9 L1491.86 264.25 L1494.18 264.87 L1496.5 266.74 L1496.5 266.74 L1494.18 268.94 L1491.86 269.86 L1489.54 270.5 L1487.21 270.97 L1484.89 271.32 L1482.57 271.59 L1480.25 271.79 L1477.93 271.94 L1475.61 272.05 L1473.29 272.13 L1470.96 272.18 L1468.64 272.21 L1466.32 272.23 L1464 272.24 L1461.68 272.23 L1459.36 272.21 L1457.04 272.18 L1454.71 272.13 L1452.39 272.05 L1450.07 271.94 L1447.75 271.79 L1445.43 271.59 L1443.11 271.32 L1440.79 270.97 L1438.46 270.5 L1436.14 269.86 L1433.82 268.94 L1431.5 266.74Z" opacity="0.9"/>
<path d="M1437 266.74 L1438.93 265.77 L1440.86 265.49 L1442.79 265.36 L1444.71 265.29 L1446.64 265.28 L1448.57 265.29 L1450.5 265.32 L1452.43 265.36 L1454.36 265.41 L1456.29 265.45 L1458.21 265.49 L1460.14 265.52 L1462.07 265.53 L1464 265.54 L1465.93 265.53 L1467.86 265.52 L1469.79 265.49 L1471.71 265.45 L1473.64 265.41 L1475.57 265.36 L1477.5 265.32 L1479.43 265.29 L1481.36 265.28 L1483.29 265.29 L1485.21 265.36 L1487.14 265.49 L1489.07 265.77 L1491 266.74 L1491 266.74 L1489.07 268.04 L1487.14 268.62 L1485.21 269.04 L1483.29 269.36 L1481.36 269.61 L1479.43 269.8 L1477.5 269.96 L1475.57 270.07 L1473.64 270.17 L1471.71 270.23 L1469.79 270.28 L1467.86 270.31 L1465.93 270.33 L1464 270.34 L1462.07 270.33 L1460.14 270.31 L1458.21 270.28 L1456.29 270.23 L1454.36 270.17 L1452.43 270.07 L1450.5 269.96 L1448.57 269.8 L1446.64 269.61 L1444.71 269.36 L1442.79 269.04 L1440.86 268.62 L1438.93 268.04 L1437 266.74Z" opacity="0.7"/>
<path d="M1499.5 267.71 L1501.82 265.92 L1504.14 265.38 L1506.46 265.1 L1508.79 264.95 L1511.11 264.89 L1513.43 264.88 L1515.75 264.91 L1518.07 264.96 L1520.39 265.02 L1522.71 265.08 L1525.04 265.13 L1527.36 265.17 L1529.68 265.2 L1532 265.21 L1534.32 265.2 L1536.64 265.17 L1538.96 265.13 L1541.29 265.08 L1543.61 265.02 L1545.93 264.96 L1548.25 264.91 L1550.57 264.88 L1552.89 264.89 L1555.21 264.95 L1557.54 265.1 L1559.86 265.38 L1562.18 265.92 L1564.5 267.71 L1564.5 267.71 L1562.18 269.99 L1559.86 270.99 L1557.54 271.7 L1555.21 272.23 L1552.89 272.65 L1550.57 272.96 L1548.25 273.21 L1545.93 273.4 L1543.61 273.54 L1541.29 273.65 L1538.96 273.72 L1536.64 273.77 L1534.32 273.8 L1532 273.81 L1529.68 273.8 L1527.36 273.77 L1525.04 273.72 L1522.71 273.65 L1520.39 273.54 L1518.07 273.4 L1515.75 273.21 L1513.43 272.96 L1511.11 272.65 L1508.79 272.23 L1506.46 271.7 L1504.14 270.99 L1501.82 269.99 L1499.5 267.71Z" opacity="0.92"/>
<path d="M1505 267.71 L1506.93 266.82 L1508.86 266.62 L1510.79 266.56 L1512.71 266.56 L1514.64 266.6 L1516.57 266.67 L1518.5 266.74 L1520.43 266.82 L1522.36 266.9 L1524.29 266.97 L1526.21 267.03 L1528.14 267.07 L1530.07 267.1 L1532 267.11 L1533.93 267.1 L1535.86 267.07 L1537.79 267.03 L1539.71 266.97 L1541.64 266.9 L1543.57 266.82 L1545.5 266.74 L1547.43 266.67 L1549.36 266.6 L1551.29 266.56 L1553.21 266.56 L1555.14 266.62 L1557.07 266.82 L1559 267.71 L1559 267.71 L1557.07 269.09 L1555.14 269.75 L1553.21 270.24 L1551.29 270.62 L1549.36 270.93 L1547.43 271.18 L1545.5 271.38 L1543.57 271.53 L1541.64 271.66 L1539.71 271.75 L1537.79 271.82 L1535.86 271.87 L1533.93 271.9 L1532 271.91 L1530.07 271.9 L1528.14 271.87 L1526.21 271.82 L1524.29 271.75 L1522.36 271.66 L1520.43 271.53 L1518.5 271.38 L1516.57 271.18 L1514.64 270.93 L1512.71 270.62 L1510.79 270.24 L1508.86 269.75 L1506.93 269.09 L1505 267.71Z" opacity="0.7"/>
<path d="M1567.5 270.62 L1569.82 268.57 L1572.14 267.91 L1574.46 267.55 L1576.79 267.34 L1579.11 267.23 L1581.43 267.19 L1583.75 267.19 L1586.07 267.22 L1588.39 267.26 L1590.71 267.31 L1593.04 267.35 L1595.36 267.39 L1597.68 267.41 L1600 267.42 L1602.32 267.41 L1604.64 267.39 L1606.96 267.35 L1609.29 267.31 L1611.61 267.26 L1613.93 267.22 L1616.25 267.19 L1618.57 267.19 L1620.89 267.23 L1623.21 267.34 L1625.54 267.55 L1627.86 267.91 L1630.18 268.57 L1632.5 270.62 L1632.5 270.62 L1630.18 273.11 L1627.86 274.18 L1625.54 274.92 L1623.21 275.47 L1620.89 275.89 L1618.57 276.21 L1616.25 276.45 L1613.93 276.64 L1611.61 276.77 L1609.29 276.87 L1606.96 276.94 L1604.64 276.99 L1602.32 277.01 L1600 277.02 L1597.68 277.01 L1595.36 276.99 L1593.04 276.94 L1590.71 276.87 L1588.39 276.77 L1586.07 276.64 L1583.75 276.45 L1581.43 276.21 L1579.11 275.89 L1576.79 275.47 L1574.46 274.92 L1572.14 274.18 L1569.82 273.11 L1567.5 270.62Z" opacity="0.48"/>
<path d="M1635.5 269.93 L1637.82 267.85 L1640.14 267.17 L1642.46 266.78 L1644.79 266.55 L1647.11 266.42 L1649.43 266.36 L1651.75 266.35 L1654.07 266.36 L1656.39 266.39 L1658.71 266.43 L1661.04 266.47 L1663.36 266.5 L1665.68 266.52 L1668 266.53 L1670.32 266.52 L1672.64 266.5 L1674.96 266.47 L1677.29 266.43 L1679.61 266.39 L1681.93 266.36 L1684.25 266.35 L1686.57 266.36 L1688.89 266.42 L1691.21 266.55 L1693.54 266.78 L1695.86 267.17 L1698.18 267.85 L1700.5 269.93 L1700.5 269.93 L1698.18 272.39 L1695.86 273.43 L1693.54 274.15 L1691.21 274.68 L1688.89 275.08 L1686.57 275.38 L1684.25 275.61 L1681.93 275.78 L1679.61 275.91 L1677.29 276 L1674.96 276.06 L1672.64 276.1 L1670.32 276.12 L1668 276.13 L1665.68 276.12 L1663.36 276.1 L1661.04 276.06 L1658.71 276 L1656.39 275.91 L1654.07 275.78 L1651.75 275.61 L1649.43 275.38 L1647.11 275.08 L1644.79 274.68 L1642.46 274.15 L1640.14 273.43 L1637.82 272.39 L1635.5 269.93Z" opacity="0.76"/>
<path d="M1705.5 271.12 L1707.82 269.07 L1710.14 268.41 L1712.46 268.05 L1714.79 267.84 L1717.11 267.73 L1719.43 267.69 L1721.75 267.69 L1724.07 267.72 L1726.39 267.76 L1728.71 267.81 L1731.04 267.85 L1733.36 267.89 L1735.68 267.91 L1738 267.92 L1740.32 267.91 L1742.64 267.89 L1744.96 267.85 L1747.29 267.81 L1749.61 267.76 L1751.93 267.72 L1754.25 267.69 L1756.57 267.69 L1758.89 267.73 L1761.21 267.84 L1763.54 268.05 L1765.86 268.41 L1768.18 269.07 L1770.5 271.12 L1770.5 271.12 L1768.18 273.61 L1765.86 274.68 L1763.54 275.42 L1761.21 275.97 L1758.89 276.39 L1756.57 276.71 L1754.25 276.95 L1751.93 277.14 L1749.61 277.27 L1747.29 277.37 L1744.96 277.44 L1742.64 277.49 L1740.32 277.51 L1738 277.52 L1735.68 277.51 L1733.36 277.49 L1731.04 277.44 L1728.71 277.37 L1726.39 277.27 L1724.07 277.14 L1721.75 276.95 L1719.43 276.71 L1717.11 276.39 L1714.79 275.97 L1712.46 275.42 L1710.14 274.68 L1707.82 273.61 L1705.5 271.12Z" opacity="0.55"/>
<path d="M1774.5 272.41 L1776.82 270.39 L1779.14 269.76 L1781.46 269.41 L1783.79 269.23 L1786.11 269.14 L1788.43 269.11 L1790.75 269.13 L1793.07 269.17 L1795.39 269.22 L1797.71 269.28 L1800.04 269.33 L1802.36 269.37 L1804.68 269.4 L1807 269.41 L1809.32 269.4 L1811.64 269.37 L1813.96 269.33 L1816.29 269.28 L1818.61 269.22 L1820.93 269.17 L1823.25 269.13 L1825.57 269.11 L1827.89 269.14 L1830.21 269.23 L1832.54 269.41 L1834.86 269.76 L1837.18 270.39 L1839.5 272.41 L1839.5 272.41 L1837.18 274.93 L1834.86 276.02 L1832.54 276.79 L1830.21 277.36 L1827.89 277.8 L1825.57 278.13 L1823.25 278.39 L1820.93 278.59 L1818.61 278.74 L1816.29 278.85 L1813.96 278.92 L1811.64 278.97 L1809.32 279 L1807 279.01 L1804.68 279 L1802.36 278.97 L1800.04 278.92 L1797.71 278.85 L1795.39 278.74 L1793.07 278.59 L1790.75 278.39 L1788.43 278.13 L1786.11 277.8 L1783.79 277.36 L1781.46 276.79 L1779.14 276.02 L1776.82 274.93 L1774.5 272.41Z" opacity="0.6"/>
<path d="M1842.5 272.52 L1844.82 270.47 L1847.14 269.81 L1849.46 269.45 L1851.79 269.24 L1854.11 269.13 L1856.43 269.09 L1858.75 269.09 L1861.07 269.12 L1863.39 269.16 L1865.71 269.21 L1868.04 269.25 L1870.36 269.29 L1872.68 269.31 L1875 269.32 L1877.32 269.31 L1879.64 269.29 L1881.96 269.25 L1884.29 269.21 L1886.61 269.16 L1888.93 269.12 L1891.25 269.09 L1893.57 269.09 L1895.89 269.13 L1898.21 269.24 L1900.54 269.45 L1902.86 269.81 L1905.18 270.47 L1907.5 272.52 L1907.5 272.52 L1905.18 275.01 L1902.86 276.08 L1900.54 276.82 L1898.21 277.37 L1895.89 277.79 L1893.57 278.11 L1891.25 278.35 L1888.93 278.54 L1886.61 278.67 L1884.29 278.77 L1881.96 278.84 L1879.64 278.89 L1877.32 278.91 L1875 278.92 L1872.68 278.91 L1870.36 278.89 L1868.04 278.84 L1865.71 278.77 L1863.39 278.67 L1861.07 278.54 L1858.75 278.35 L1856.43 278.11 L1854.11 277.79 L1851.79 277.37 L1849.46 276.82 L1847.14 276.08 L1844.82 275.01 L1842.5 272.52Z" opacity="0.6"/>
<path d="M1917.5 272.85 L1919.82 270.72 L1922.14 269.98 L1924.46 269.55 L1926.79 269.27 L1929.11 269.11 L1931.43 269.01 L1933.75 268.97 L1936.07 268.96 L1938.39 268.97 L1940.71 268.99 L1943.04 269.01 L1945.36 269.03 L1947.68 269.04 L1950 269.05 L1952.32 269.04 L1954.64 269.03 L1956.96 269.01 L1959.29 268.99 L1961.61 268.97 L1963.93 268.96 L1966.25 268.97 L1968.57 269.01 L1970.89 269.11 L1973.21 269.27 L1975.54 269.55 L1977.86 269.98 L1980.18 270.72 L1982.5 272.85 L1982.5 272.85 L1980.18 275.26 L1977.86 276.25 L1975.54 276.92 L1973.21 277.41 L1970.89 277.77 L1968.57 278.03 L1966.25 278.23 L1963.93 278.38 L1961.61 278.48 L1959.29 278.55 L1956.96 278.6 L1954.64 278.63 L1952.32 278.64 L1950 278.65 L1947.68 278.64 L1945.36 278.63 L1943.04 278.6 L1940.71 278.55 L1938.39 278.48 L1936.07 278.38 L1933.75 278.23 L1931.43 278.03 L1929.11 277.77 L1926.79 277.41 L1924.46 276.92 L1922.14 276.25 L1919.82 275.26 L1917.5 272.85Z" opacity="0.66"/>
<rect x="339" y="290.5" width="52" height="8" rx="3" opacity="0.03"/>
<rect x="761" y="291.9" width="52" height="8" rx="3" opacity="0.12"/>
<rect x="828" y="293.2" width="52" height="8" rx="3" opacity="0.04"/>
<rect x="896" y="293.2" width="52" height="8" rx="3" opacity="0.05"/>
<rect x="964" y="293.5" width="52" height="8" rx="3" opacity="0.05"/>
<rect x="1167" y="293.8" width="52" height="8" rx="3" opacity="0.08"/>
<rect x="1302" y="295" width="52" height="8" rx="3" opacity="0.03"/>
<rect x="1371" y="296" width="52" height="8" rx="3" opacity="0.05"/>
<rect x="1506" y="298.7" width="52" height="8" rx="3" opacity="0.03"/>
<rect x="1712" y="302" width="52" height="8" rx="3" opacity="0.03"/>
<rect x="1781" y="303.4" width="52" height="8" rx="3" opacity="0.05"/>
<rect x="1849" y="303.4" width="52" height="8" rx="3" opacity="0.03"/>
</g>
<g filter="url(#fg)" fill="#000">
<rect x="763" y="240" width="48" height="90" opacity="0.045"/>
<rect x="763" y="235.9" width="48" height="24" opacity="0.05"/>
<rect x="898" y="237.2" width="48" height="24" opacity="0.025"/>
<rect x="1373" y="240" width="48" height="24" opacity="0.03"/>
<rect x="1783" y="247.4" width="48" height="24" opacity="0.025"/>
</g>
<g filter="url(#fa)" fill="#000">
<path d="M330 373.82 L333.01 369.83 L336.01 368.4 L339.02 367.52 L342.03 366.94 L345.04 366.56 L348.04 366.32 L351.05 366.19 L354.06 366.14 L357.06 366.14 L360.07 366.19 L363.08 366.25 L366.09 366.33 L369.09 366.41 L372.1 366.47 L375.11 366.52 L378.11 366.56 L381.12 366.6 L384.13 366.64 L387.14 366.71 L390.14 366.82 L393.15 366.99 L396.16 367.23 L399.16 367.58 L402.17 368.08 L405.18 368.78 L408.19 369.78 L411.19 371.31 L414.2 375.42 L414.2 375.42 L411.19 379.85 L408.19 381.68 L405.18 382.95 L402.17 383.87 L399.16 384.56 L396.16 385.08 L393.15 385.45 L390.14 385.71 L387.14 385.89 L384.13 385.99 L381.12 386.04 L378.11 386.04 L375.11 386.02 L372.1 385.97 L369.09 385.9 L366.09 385.82 L363.08 385.7 L360.07 385.53 L357.06 385.32 L354.06 385.03 L351.05 384.65 L348.04 384.16 L345.04 383.53 L342.03 382.73 L339.02 381.69 L336.01 380.31 L333.01 378.37 L330 373.82Z"/>
<path d="M411 375.62 L413.71 371.57 L416.43 370.09 L419.14 369.15 L421.86 368.51 L424.57 368.07 L427.29 367.78 L430 367.59 L432.71 367.48 L435.43 367.43 L438.14 367.42 L440.86 367.43 L443.57 367.44 L446.29 367.46 L449 367.47 L451.71 367.46 L454.43 367.44 L457.14 367.43 L459.86 367.42 L462.57 367.43 L465.29 367.48 L468 367.59 L470.71 367.78 L473.43 368.07 L476.14 368.51 L478.86 369.15 L481.57 370.09 L484.29 371.57 L487 375.62 L487 375.62 L484.29 380.11 L481.57 382 L478.86 383.32 L476.14 384.3 L473.43 385.05 L470.71 385.62 L468 386.05 L465.29 386.37 L462.57 386.6 L459.86 386.76 L457.14 386.87 L454.43 386.93 L451.71 386.96 L449 386.97 L446.29 386.96 L443.57 386.93 L440.86 386.87 L438.14 386.76 L435.43 386.6 L432.71 386.37 L430 386.05 L427.29 385.62 L424.57 385.05 L421.86 384.3 L419.14 383.32 L416.43 382 L413.71 380.11 L411 375.62Z"/>
<path d="M483.8 375.62 L486.42 371.57 L489.04 370.09 L491.65 369.15 L494.27 368.51 L496.89 368.07 L499.51 367.78 L502.13 367.59 L504.74 367.48 L507.36 367.43 L509.98 367.42 L512.6 367.43 L515.21 367.44 L517.83 367.46 L520.45 367.47 L523.07 367.46 L525.69 367.44 L528.3 367.43 L530.92 367.42 L533.54 367.43 L536.16 367.48 L538.78 367.59 L541.39 367.78 L544.01 368.07 L546.63 368.51 L549.25 369.15 L551.86 370.09 L554.48 371.57 L557.1 375.62 L557.1 375.62 L554.48 380.11 L551.86 382 L549.25 383.32 L546.63 384.3 L544.01 385.05 L541.39 385.62 L538.78 386.05 L536.16 386.37 L533.54 386.6 L530.92 386.76 L528.3 386.87 L525.69 386.93 L523.07 386.96 L520.45 386.97 L517.83 386.96 L515.21 386.93 L512.6 386.87 L509.98 386.76 L507.36 386.6 L504.74 386.37 L502.13 386.05 L499.51 385.62 L496.89 385.05 L494.27 384.3 L491.65 383.32 L489.04 382 L486.42 380.11 L483.8 375.62Z"/>
<path d="M553.9 375.32 L556.37 371.33 L558.84 369.9 L561.3 369.02 L563.77 368.44 L566.24 368.06 L568.71 367.82 L571.18 367.69 L573.64 367.64 L576.11 367.64 L578.58 367.69 L581.05 367.75 L583.51 367.83 L585.98 367.91 L588.45 367.97 L590.92 368.02 L593.39 368.06 L595.85 368.1 L598.32 368.14 L600.79 368.21 L603.26 368.32 L605.73 368.49 L608.19 368.73 L610.66 369.08 L613.13 369.58 L615.6 370.28 L618.06 371.28 L620.53 372.81 L623 376.92 L623 376.92 L620.53 381.35 L618.06 383.18 L615.6 384.45 L613.13 385.37 L610.66 386.06 L608.19 386.58 L605.73 386.95 L603.26 387.21 L600.79 387.39 L598.32 387.49 L595.85 387.54 L593.39 387.54 L590.92 387.52 L588.45 387.47 L585.98 387.4 L583.51 387.32 L581.05 387.2 L578.58 387.03 L576.11 386.82 L573.64 386.53 L571.18 386.15 L568.71 385.66 L566.24 385.03 L563.77 384.23 L561.3 383.19 L558.84 381.81 L556.37 379.87 L553.9 375.32Z"/>
<path d="M619.8 373.32 L622.36 369.33 L624.93 367.9 L627.49 367.02 L630.06 366.44 L632.62 366.06 L635.19 365.82 L637.75 365.69 L640.31 365.64 L642.88 365.64 L645.44 365.69 L648.01 365.75 L650.57 365.83 L653.14 365.91 L655.7 365.97 L658.26 366.02 L660.83 366.06 L663.39 366.1 L665.96 366.14 L668.52 366.21 L671.09 366.32 L673.65 366.49 L676.21 366.73 L678.78 367.08 L681.34 367.58 L683.91 368.28 L686.47 369.28 L689.04 370.81 L691.6 374.92 L691.6 374.92 L689.04 379.35 L686.47 381.18 L683.91 382.45 L681.34 383.37 L678.78 384.06 L676.21 384.58 L673.65 384.95 L671.09 385.21 L668.52 385.39 L665.96 385.49 L663.39 385.54 L660.83 385.54 L658.26 385.52 L655.7 385.47 L653.14 385.4 L650.57 385.32 L648.01 385.2 L645.44 385.03 L642.88 384.82 L640.31 384.53 L637.75 384.15 L635.19 383.66 L632.62 383.03 L630.06 382.23 L627.49 381.19 L624.93 379.81 L622.36 377.87 L619.8 373.32Z"/>
<path d="M688.4 373.62 L690.92 369.57 L693.44 368.09 L695.96 367.15 L698.49 366.51 L701.01 366.07 L703.53 365.78 L706.05 365.59 L708.57 365.48 L711.09 365.43 L713.61 365.42 L716.14 365.43 L718.66 365.44 L721.18 365.46 L723.7 365.47 L726.22 365.46 L728.74 365.44 L731.26 365.43 L733.79 365.42 L736.31 365.43 L738.83 365.48 L741.35 365.59 L743.87 365.78 L746.39 366.07 L748.91 366.51 L751.44 367.15 L753.96 368.09 L756.48 369.57 L759 373.62 L759 373.62 L756.48 378.11 L753.96 380 L751.44 381.32 L748.91 382.3 L746.39 383.05 L743.87 383.62 L741.35 384.05 L738.83 384.37 L736.31 384.6 L733.79 384.76 L731.26 384.87 L728.74 384.93 L726.22 384.96 L723.7 384.97 L721.18 384.96 L718.66 384.93 L716.14 384.87 L713.61 384.76 L711.09 384.6 L708.57 384.37 L706.05 384.05 L703.53 383.62 L701.01 383.05 L698.49 382.3 L695.96 381.32 L693.44 380 L690.92 378.11 L688.4 373.62Z"/>
<path d="M755.8 373.12 L758.26 369.07 L760.71 367.59 L763.17 366.65 L765.63 366.01 L768.09 365.57 L770.54 365.28 L773 365.09 L775.46 364.98 L777.91 364.93 L780.37 364.92 L782.83 364.93 L785.29 364.94 L787.74 364.96 L790.2 364.97 L792.66 364.96 L795.11 364.94 L797.57 364.93 L800.03 364.92 L802.49 364.93 L804.94 364.98 L807.4 365.09 L809.86 365.28 L812.31 365.57 L814.77 366.01 L817.23 366.65 L819.69 367.59 L822.14 369.07 L824.6 373.12 L824.6 373.12 L822.14 377.61 L819.69 379.5 L817.23 380.82 L814.77 381.8 L812.31 382.55 L809.86 383.12 L807.4 383.55 L804.94 383.87 L802.49 384.1 L800.03 384.26 L797.57 384.37 L795.11 384.43 L792.66 384.46 L790.2 384.47 L787.74 384.46 L785.29 384.43 L782.83 384.37 L780.37 384.26 L777.91 384.1 L775.46 383.87 L773 383.55 L770.54 383.12 L768.09 382.55 L765.63 381.8 L763.17 380.82 L760.71 379.5 L758.26 377.61 L755.8 373.12Z"/>
<path d="M821.4 373.12 L823.84 369.07 L826.27 367.59 L828.71 366.65 L831.14 366.01 L833.58 365.57 L836.01 365.28 L838.45 365.09 L840.89 364.98 L843.32 364.93 L845.76 364.92 L848.19 364.93 L850.63 364.94 L853.06 364.96 L855.5 364.97 L857.94 364.96 L860.37 364.94 L862.81 364.93 L865.24 364.92 L867.68 364.93 L870.11 364.98 L872.55 365.09 L874.99 365.28 L877.42 365.57 L879.86 366.01 L882.29 366.65 L884.73 367.59 L887.16 369.07 L889.6 373.12 L889.6 373.12 L887.16 377.61 L884.73 379.5 L882.29 380.82 L879.86 381.8 L877.42 382.55 L874.99 383.12 L872.55 383.55 L870.11 383.87 L867.68 384.1 L865.24 384.26 L862.81 384.37 L860.37 384.43 L857.94 384.46 L855.5 384.47 L853.06 384.46 L850.63 384.43 L848.19 384.37 L845.76 384.26 L843.32 384.1 L840.89 383.87 L838.45 383.55 L836.01 383.12 L833.58 382.55 L831.14 381.8 L828.71 380.82 L826.27 379.5 L823.84 377.61 L821.4 373.12Z"/>
<path d="M886.4 373.12 L888.94 369.07 L891.47 367.59 L894.01 366.65 L896.54 366.01 L899.08 365.57 L901.61 365.28 L904.15 365.09 L906.69 364.98 L909.22 364.93 L911.76 364.92 L914.29 364.93 L916.83 364.94 L919.36 364.96 L921.9 364.97 L924.44 364.96 L926.97 364.94 L929.51 364.93 L932.04 364.92 L934.58 364.93 L937.11 364.98 L939.65 365.09 L942.19 365.28 L944.72 365.57 L947.26 366.01 L949.79 366.65 L952.33 367.59 L954.86 369.07 L957.4 373.12 L957.4 373.12 L954.86 377.61 L952.33 379.5 L949.79 380.82 L947.26 381.8 L944.72 382.55 L942.19 383.12 L939.65 383.55 L937.11 383.87 L934.58 384.1 L932.04 384.26 L929.51 384.37 L926.97 384.43 L924.44 384.46 L921.9 384.47 L919.36 384.46 L916.83 384.43 L914.29 384.37 L911.76 384.26 L909.22 384.1 L906.69 383.87 L904.15 383.55 L901.61 383.12 L899.08 382.55 L896.54 381.8 L894.01 380.82 L891.47 379.5 L888.94 377.61 L886.4 373.12Z"/>
<path d="M954.2 372.72 L956.67 368.63 L959.14 367.1 L961.6 366.12 L964.07 365.44 L966.54 364.96 L969.01 364.62 L971.48 364.39 L973.94 364.24 L976.41 364.14 L978.88 364.09 L981.35 364.05 L983.81 364.03 L986.28 364.01 L988.75 363.97 L991.22 363.92 L993.69 363.86 L996.15 363.8 L998.62 363.74 L1001.09 363.71 L1003.56 363.72 L1006.02 363.79 L1008.49 363.93 L1010.96 364.18 L1013.43 364.58 L1015.9 365.18 L1018.36 366.08 L1020.83 367.51 L1023.3 371.52 L1023.3 371.52 L1020.83 376.05 L1018.36 377.98 L1015.9 379.35 L1013.43 380.37 L1010.96 381.16 L1008.49 381.78 L1006.02 382.25 L1003.56 382.61 L1001.09 382.89 L998.62 383.09 L996.15 383.24 L993.69 383.34 L991.22 383.42 L988.75 383.47 L986.28 383.5 L983.81 383.52 L981.35 383.5 L978.88 383.43 L976.41 383.32 L973.94 383.13 L971.48 382.85 L969.01 382.46 L966.54 381.93 L964.07 381.23 L961.6 380.29 L959.14 379.01 L956.67 377.17 L954.2 372.72Z"/>
<path d="M1020.1 372.22 L1022.62 368.13 L1025.14 366.6 L1027.65 365.62 L1030.17 364.94 L1032.69 364.46 L1035.21 364.12 L1037.72 363.89 L1040.24 363.74 L1042.76 363.64 L1045.28 363.59 L1047.8 363.55 L1050.31 363.53 L1052.83 363.51 L1055.35 363.47 L1057.87 363.42 L1060.39 363.36 L1062.9 363.3 L1065.42 363.24 L1067.94 363.21 L1070.46 363.22 L1072.97 363.29 L1075.49 363.43 L1078.01 363.68 L1080.53 364.08 L1083.05 364.68 L1085.56 365.58 L1088.08 367.01 L1090.6 371.02 L1090.6 371.02 L1088.08 375.55 L1085.56 377.48 L1083.05 378.85 L1080.53 379.87 L1078.01 380.66 L1075.49 381.28 L1072.97 381.75 L1070.46 382.11 L1067.94 382.39 L1065.42 382.59 L1062.9 382.74 L1060.39 382.84 L1057.87 382.92 L1055.35 382.97 L1052.83 383 L1050.31 383.02 L1047.8 383 L1045.28 382.93 L1042.76 382.82 L1040.24 382.63 L1037.72 382.35 L1035.21 381.96 L1032.69 381.43 L1030.17 380.73 L1027.65 379.79 L1025.14 378.51 L1022.62 376.67 L1020.1 372.22Z"/>
<path d="M1087.4 370.62 L1089.87 366.57 L1092.34 365.09 L1094.81 364.15 L1097.29 363.51 L1099.76 363.07 L1102.23 362.78 L1104.7 362.59 L1107.17 362.48 L1109.64 362.43 L1112.11 362.42 L1114.59 362.43 L1117.06 362.44 L1119.53 362.46 L1122 362.47 L1124.47 362.46 L1126.94 362.44 L1129.41 362.43 L1131.89 362.42 L1134.36 362.43 L1136.83 362.48 L1139.3 362.59 L1141.77 362.78 L1144.24 363.07 L1146.71 363.51 L1149.19 364.15 L1151.66 365.09 L1154.13 366.57 L1156.6 370.62 L1156.6 370.62 L1154.13 375.11 L1151.66 377 L1149.19 378.32 L1146.71 379.3 L1144.24 380.05 L1141.77 380.62 L1139.3 381.05 L1136.83 381.37 L1134.36 381.6 L1131.89 381.76 L1129.41 381.87 L1126.94 381.93 L1124.47 381.96 L1122 381.97 L1119.53 381.96 L1117.06 381.93 L1114.59 381.87 L1112.11 381.76 L1109.64 381.6 L1107.17 381.37 L1104.7 381.05 L1102.23 380.62 L1099.76 380.05 L1097.29 379.3 L1094.81 378.32 L1092.34 377 L1089.87 375.11 L1087.4 370.62Z"/>
<path d="M1153.4 370.62 L1155.91 366.57 L1158.41 365.09 L1160.92 364.15 L1163.43 363.51 L1165.94 363.07 L1168.44 362.78 L1170.95 362.59 L1173.46 362.48 L1175.96 362.43 L1178.47 362.42 L1180.98 362.43 L1183.49 362.44 L1185.99 362.46 L1188.5 362.47 L1191.01 362.46 L1193.51 362.44 L1196.02 362.43 L1198.53 362.42 L1201.04 362.43 L1203.54 362.48 L1206.05 362.59 L1208.56 362.78 L1211.06 363.07 L1213.57 363.51 L1216.08 364.15 L1218.59 365.09 L1221.09 366.57 L1223.6 370.62 L1223.6 370.62 L1221.09 375.11 L1218.59 377 L1216.08 378.32 L1213.57 379.3 L1211.06 380.05 L1208.56 380.62 L1206.05 381.05 L1203.54 381.37 L1201.04 381.6 L1198.53 381.76 L1196.02 381.87 L1193.51 381.93 L1191.01 381.96 L1188.5 381.97 L1185.99 381.96 L1183.49 381.93 L1180.98 381.87 L1178.47 381.76 L1175.96 381.6 L1173.46 381.37 L1170.95 381.05 L1168.44 380.62 L1165.94 380.05 L1163.43 379.3 L1160.92 378.32 L1158.41 377 L1155.91 375.11 L1153.4 370.62Z"/>
<path d="M1220.4 370.62 L1222.93 366.57 L1225.46 365.09 L1227.99 364.15 L1230.51 363.51 L1233.04 363.07 L1235.57 362.78 L1238.1 362.59 L1240.63 362.48 L1243.16 362.43 L1245.69 362.42 L1248.21 362.43 L1250.74 362.44 L1253.27 362.46 L1255.8 362.47 L1258.33 362.46 L1260.86 362.44 L1263.39 362.43 L1265.91 362.42 L1268.44 362.43 L1270.97 362.48 L1273.5 362.59 L1276.03 362.78 L1278.56 363.07 L1281.09 363.51 L1283.61 364.15 L1286.14 365.09 L1288.67 366.57 L1291.2 370.62 L1291.2 370.62 L1288.67 375.11 L1286.14 377 L1283.61 378.32 L1281.09 379.3 L1278.56 380.05 L1276.03 380.62 L1273.5 381.05 L1270.97 381.37 L1268.44 381.6 L1265.91 381.76 L1263.39 381.87 L1260.86 381.93 L1258.33 381.96 L1255.8 381.97 L1253.27 381.96 L1250.74 381.93 L1248.21 381.87 L1245.69 381.76 L1243.16 381.6 L1240.63 381.37 L1238.1 381.05 L1235.57 380.62 L1233.04 380.05 L1230.51 379.3 L1227.99 378.32 L1225.46 377 L1222.93 375.11 L1220.4 370.62Z"/>
<path d="M1288 370.62 L1290.52 366.57 L1293.04 365.09 L1295.56 364.15 L1298.09 363.51 L1300.61 363.07 L1303.13 362.78 L1305.65 362.59 L1308.17 362.48 L1310.69 362.43 L1313.21 362.42 L1315.74 362.43 L1318.26 362.44 L1320.78 362.46 L1323.3 362.47 L1325.82 362.46 L1328.34 362.44 L1330.86 362.43 L1333.39 362.42 L1335.91 362.43 L1338.43 362.48 L1340.95 362.59 L1343.47 362.78 L1345.99 363.07 L1348.51 363.51 L1351.04 364.15 L1353.56 365.09 L1356.08 366.57 L1358.6 370.62 L1358.6 370.62 L1356.08 375.11 L1353.56 377 L1351.04 378.32 L1348.51 379.3 L1345.99 380.05 L1343.47 380.62 L1340.95 381.05 L1338.43 381.37 L1335.91 381.6 L1333.39 381.76 L1330.86 381.87 L1328.34 381.93 L1325.82 381.96 L1323.3 381.97 L1320.78 381.96 L1318.26 381.93 L1315.74 381.87 L1313.21 381.76 L1310.69 381.6 L1308.17 381.37 L1305.65 381.05 L1303.13 380.62 L1300.61 380.05 L1298.09 379.3 L1295.56 378.32 L1293.04 377 L1290.52 375.11 L1288 370.62Z"/>
<path d="M1355.4 370.62 L1357.85 366.57 L1360.31 365.09 L1362.76 364.15 L1365.21 363.51 L1367.67 363.07 L1370.12 362.78 L1372.58 362.59 L1375.03 362.48 L1377.48 362.43 L1379.94 362.42 L1382.39 362.43 L1384.84 362.44 L1387.3 362.46 L1389.75 362.47 L1392.2 362.46 L1394.66 362.44 L1397.11 362.43 L1399.56 362.42 L1402.02 362.43 L1404.47 362.48 L1406.92 362.59 L1409.38 362.78 L1411.83 363.07 L1414.29 363.51 L1416.74 364.15 L1419.19 365.09 L1421.65 366.57 L1424.1 370.62 L1424.1 370.62 L1421.65 375.11 L1419.19 377 L1416.74 378.32 L1414.29 379.3 L1411.83 380.05 L1409.38 380.62 L1406.92 381.05 L1404.47 381.37 L1402.02 381.6 L1399.56 381.76 L1397.11 381.87 L1394.66 381.93 L1392.2 381.96 L1389.75 381.97 L1387.3 381.96 L1384.84 381.93 L1382.39 381.87 L1379.94 381.76 L1377.48 381.6 L1375.03 381.37 L1372.58 381.05 L1370.12 380.62 L1367.67 380.05 L1365.21 379.3 L1362.76 378.32 L1360.31 377 L1357.85 375.11 L1355.4 370.62Z"/>
<path d="M1420.9 370.12 L1423.35 366.07 L1425.81 364.59 L1428.26 363.65 L1430.71 363.01 L1433.17 362.57 L1435.62 362.28 L1438.08 362.09 L1440.53 361.98 L1442.98 361.93 L1445.44 361.92 L1447.89 361.93 L1450.34 361.94 L1452.8 361.96 L1455.25 361.97 L1457.7 361.96 L1460.16 361.94 L1462.61 361.93 L1465.06 361.92 L1467.52 361.93 L1469.97 361.98 L1472.42 362.09 L1474.88 362.28 L1477.33 362.57 L1479.79 363.01 L1482.24 363.65 L1484.69 364.59 L1487.15 366.07 L1489.6 370.12 L1489.6 370.12 L1487.15 374.61 L1484.69 376.5 L1482.24 377.82 L1479.79 378.8 L1477.33 379.55 L1474.88 380.12 L1472.42 380.55 L1469.97 380.87 L1467.52 381.1 L1465.06 381.26 L1462.61 381.37 L1460.16 381.43 L1457.7 381.46 L1455.25 381.47 L1452.8 381.46 L1450.34 381.43 L1447.89 381.37 L1445.44 381.26 L1442.98 381.1 L1440.53 380.87 L1438.08 380.55 L1435.62 380.12 L1433.17 379.55 L1430.71 378.8 L1428.26 377.82 L1425.81 376.5 L1423.35 374.61 L1420.9 370.12Z"/>
<path d="M1486.4 370.12 L1488.96 366.07 L1491.53 364.59 L1494.09 363.65 L1496.66 363.01 L1499.22 362.57 L1501.79 362.28 L1504.35 362.09 L1506.91 361.98 L1509.48 361.93 L1512.04 361.92 L1514.61 361.93 L1517.17 361.94 L1519.74 361.96 L1522.3 361.97 L1524.86 361.96 L1527.43 361.94 L1529.99 361.93 L1532.56 361.92 L1535.12 361.93 L1537.69 361.98 L1540.25 362.09 L1542.81 362.28 L1545.38 362.57 L1547.94 363.01 L1550.51 363.65 L1553.07 364.59 L1555.64 366.07 L1558.2 370.12 L1558.2 370.12 L1555.64 374.61 L1553.07 376.5 L1550.51 377.82 L1547.94 378.8 L1545.38 379.55 L1542.81 380.12 L1540.25 380.55 L1537.69 380.87 L1535.12 381.1 L1532.56 381.26 L1529.99 381.37 L1527.43 381.43 L1524.86 381.46 L1522.3 381.47 L1519.74 381.46 L1517.17 381.43 L1514.61 381.37 L1512.04 381.26 L1509.48 381.1 L1506.91 380.87 L1504.35 380.55 L1501.79 380.12 L1499.22 379.55 L1496.66 378.8 L1494.09 377.82 L1491.53 376.5 L1488.96 374.61 L1486.4 370.12Z"/>
<path d="M1555 370.62 L1557.47 366.57 L1559.94 365.09 L1562.4 364.15 L1564.87 363.51 L1567.34 363.07 L1569.81 362.78 L1572.27 362.59 L1574.74 362.48 L1577.21 362.43 L1579.68 362.42 L1582.15 362.43 L1584.61 362.44 L1587.08 362.46 L1589.55 362.47 L1592.02 362.46 L1594.49 362.44 L1596.95 362.43 L1599.42 362.42 L1601.89 362.43 L1604.36 362.48 L1606.83 362.59 L1609.29 362.78 L1611.76 363.07 L1614.23 363.51 L1616.7 364.15 L1619.16 365.09 L1621.63 366.57 L1624.1 370.62 L1624.1 370.62 L1621.63 375.11 L1619.16 377 L1616.7 378.32 L1614.23 379.3 L1611.76 380.05 L1609.29 380.62 L1606.83 381.05 L1604.36 381.37 L1601.89 381.6 L1599.42 381.76 L1596.95 381.87 L1594.49 381.93 L1592.02 381.96 L1589.55 381.97 L1587.08 381.96 L1584.61 381.93 L1582.15 381.87 L1579.68 381.76 L1577.21 381.6 L1574.74 381.37 L1572.27 381.05 L1569.81 380.62 L1567.34 380.05 L1564.87 379.3 L1562.4 378.32 L1559.94 377 L1557.47 375.11 L1555 370.62Z"/>
<path d="M1620.9 369.62 L1623.42 365.57 L1625.95 364.09 L1628.47 363.15 L1631 362.51 L1633.53 362.07 L1636.05 361.78 L1638.58 361.59 L1641.1 361.48 L1643.62 361.43 L1646.15 361.42 L1648.67 361.43 L1651.2 361.44 L1653.72 361.46 L1656.25 361.47 L1658.78 361.46 L1661.3 361.44 L1663.83 361.43 L1666.35 361.42 L1668.88 361.43 L1671.4 361.48 L1673.92 361.59 L1676.45 361.78 L1678.97 362.07 L1681.5 362.51 L1684.03 363.15 L1686.55 364.09 L1689.08 365.57 L1691.6 369.62 L1691.6 369.62 L1689.08 374.11 L1686.55 376 L1684.03 377.32 L1681.5 378.3 L1678.97 379.05 L1676.45 379.62 L1673.92 380.05 L1671.4 380.37 L1668.88 380.6 L1666.35 380.76 L1663.83 380.87 L1661.3 380.93 L1658.78 380.96 L1656.25 380.97 L1653.72 380.96 L1651.2 380.93 L1648.67 380.87 L1646.15 380.76 L1643.62 380.6 L1641.1 380.37 L1638.58 380.05 L1636.05 379.62 L1633.53 379.05 L1631 378.3 L1628.47 377.32 L1625.95 376 L1623.42 374.11 L1620.9 369.62Z"/>
<path d="M1688.4 369.62 L1691.01 365.57 L1693.63 364.09 L1696.24 363.15 L1698.86 362.51 L1701.47 362.07 L1704.09 361.78 L1706.7 361.59 L1709.31 361.48 L1711.93 361.43 L1714.54 361.42 L1717.16 361.43 L1719.77 361.44 L1722.39 361.46 L1725 361.47 L1727.61 361.46 L1730.23 361.44 L1732.84 361.43 L1735.46 361.42 L1738.07 361.43 L1740.69 361.48 L1743.3 361.59 L1745.91 361.78 L1748.53 362.07 L1751.14 362.51 L1753.76 363.15 L1756.37 364.09 L1758.99 365.57 L1761.6 369.62 L1761.6 369.62 L1758.99 374.11 L1756.37 376 L1753.76 377.32 L1751.14 378.3 L1748.53 379.05 L1745.91 379.62 L1743.3 380.05 L1740.69 380.37 L1738.07 380.6 L1735.46 380.76 L1732.84 380.87 L1730.23 380.93 L1727.61 380.96 L1725 380.97 L1722.39 380.96 L1719.77 380.93 L1717.16 380.87 L1714.54 380.76 L1711.93 380.6 L1709.31 380.37 L1706.7 380.05 L1704.09 379.62 L1701.47 379.05 L1698.86 378.3 L1696.24 377.32 L1693.63 376 L1691.01 374.11 L1688.4 369.62Z"/>
<path d="M1758.4 369.62 L1760.91 365.57 L1763.41 364.09 L1765.92 363.15 L1768.43 362.51 L1770.94 362.07 L1773.44 361.78 L1775.95 361.59 L1778.46 361.48 L1780.96 361.43 L1783.47 361.42 L1785.98 361.43 L1788.49 361.44 L1790.99 361.46 L1793.5 361.47 L1796.01 361.46 L1798.51 361.44 L1801.02 361.43 L1803.53 361.42 L1806.04 361.43 L1808.54 361.48 L1811.05 361.59 L1813.56 361.78 L1816.06 362.07 L1818.57 362.51 L1821.08 363.15 L1823.59 364.09 L1826.09 365.57 L1828.6 369.62 L1828.6 369.62 L1826.09 374.11 L1823.59 376 L1821.08 377.32 L1818.57 378.3 L1816.06 379.05 L1813.56 379.62 L1811.05 380.05 L1808.54 380.37 L1806.04 380.6 L1803.53 380.76 L1801.02 380.87 L1798.51 380.93 L1796.01 380.96 L1793.5 380.97 L1790.99 380.96 L1788.49 380.93 L1785.98 380.87 L1783.47 380.76 L1780.96 380.6 L1778.46 380.37 L1775.95 380.05 L1773.44 379.62 L1770.94 379.05 L1768.43 378.3 L1765.92 377.32 L1763.41 376 L1760.91 374.11 L1758.4 369.62Z"/>
<path d="M1825.4 368.72 L1827.92 364.63 L1830.45 363.1 L1832.97 362.12 L1835.5 361.44 L1838.03 360.96 L1840.55 360.62 L1843.08 360.39 L1845.6 360.24 L1848.12 360.14 L1850.65 360.09 L1853.17 360.05 L1855.7 360.03 L1858.22 360.01 L1860.75 359.97 L1863.28 359.92 L1865.8 359.86 L1868.33 359.8 L1870.85 359.74 L1873.38 359.71 L1875.9 359.72 L1878.42 359.79 L1880.95 359.93 L1883.47 360.18 L1886 360.58 L1888.53 361.18 L1891.05 362.08 L1893.58 363.51 L1896.1 367.52 L1896.1 367.52 L1893.58 372.05 L1891.05 373.98 L1888.53 375.35 L1886 376.37 L1883.47 377.16 L1880.95 377.78 L1878.42 378.25 L1875.9 378.61 L1873.38 378.89 L1870.85 379.09 L1868.33 379.24 L1865.8 379.34 L1863.28 379.42 L1860.75 379.47 L1858.22 379.5 L1855.7 379.52 L1853.17 379.5 L1850.65 379.43 L1848.12 379.32 L1845.6 379.13 L1843.08 378.85 L1840.55 378.46 L1838.03 377.93 L1835.5 377.23 L1832.97 376.29 L1830.45 375.01 L1827.92 373.17 L1825.4 368.72Z"/>
<path d="M1892.9 367.72 L1895.96 363.49 L1899.02 361.82 L1902.08 360.69 L1905.14 359.87 L1908.2 359.24 L1911.26 358.76 L1914.33 358.39 L1917.39 358.1 L1920.45 357.86 L1923.51 357.66 L1926.57 357.48 L1929.63 357.32 L1932.69 357.15 L1935.75 356.97 L1938.81 356.78 L1941.87 356.57 L1944.93 356.37 L1947.99 356.17 L1951.05 356 L1954.11 355.87 L1957.17 355.79 L1960.24 355.79 L1963.3 355.9 L1966.36 356.15 L1969.42 356.6 L1972.48 357.36 L1975.54 358.66 L1978.6 362.52 L1978.6 362.52 L1975.54 367.19 L1972.48 369.27 L1969.42 370.77 L1966.36 371.94 L1963.3 372.88 L1960.24 373.63 L1957.17 374.25 L1954.11 374.76 L1951.05 375.17 L1947.99 375.52 L1944.93 375.81 L1941.87 376.06 L1938.81 376.28 L1935.75 376.47 L1932.69 376.65 L1929.63 376.8 L1926.57 376.93 L1923.51 377.01 L1920.45 377.03 L1917.39 376.99 L1914.33 376.85 L1911.26 376.6 L1908.2 376.22 L1905.14 375.66 L1902.08 374.86 L1899.02 373.73 L1895.96 372.02 L1892.9 367.72Z"/>
</g>
<g filter="url(#ft)" fill="#000">
<rect x="343.6" y="331" width="57" height="2.2" opacity="0.25"/>
<rect x="424.6" y="331" width="48.8" height="2.2" opacity="0.2"/>
<rect x="497.4" y="331" width="46.1" height="2.2" opacity="0.22"/>
<rect x="567.5" y="331" width="41.9" height="2.2" opacity="0.35"/>
</g>
</g>
<!-- blot 2: parkin / beta-actin -->
<rect x="306" y="424.5" width="1688" height="263.5" fill="#000"/>
<rect x="312" y="430.5" width="1676" height="251.5" fill="#d9d9d9"/>
<g clip-path="url(#c2)">
<path d="M312 430.5 L1330 430.5 L1180 435.5 L1000 440 L640 440 L312 435.5 Z" fill="#e2e2e2"/>
<rect x="312" y="616" width="1676" height="66" fill="#dddddd"/>
<path d="M312 610 L1100 608.5 L1420 596 L1800 584 L1988 575.5 L1988 616 L312 616 Z" fill="#e2e2e2"/>
<rect x="312" y="612.5" width="788" height="3.5" fill="#e6e6e6"/>
<g filter="url(#fl)" fill="#000">
<rect x="358" y="444" width="54" height="77.6" opacity="0.07"/>
<rect x="358" y="543.6" width="54" height="62.4" opacity="0.02"/>
<rect x="338.6" y="619" width="67" height="70" opacity="0.03"/>
<rect x="432" y="444" width="54" height="78" opacity="0.07"/>
<rect x="432" y="543.6" width="54" height="62.4" opacity="0.02"/>
<rect x="419.6" y="619" width="58.8" height="70" opacity="0.03"/>
<rect x="499" y="444" width="54" height="77" opacity="0.07"/>
<rect x="499" y="543" width="54" height="63" opacity="0.02"/>
<rect x="492.4" y="619" width="56.1" height="70" opacity="0.03"/>
<rect x="564" y="444" width="54" height="76.5" opacity="0.07"/>
<rect x="564" y="543.6" width="54" height="62.4" opacity="0.02"/>
<rect x="562.5" y="619" width="51.9" height="70" opacity="0.03"/>
<rect x="630" y="444" width="54" height="78" opacity="0.07"/>
<rect x="630" y="544" width="54" height="62" opacity="0.02"/>
<rect x="628.4" y="619" width="54.6" height="70" opacity="0.03"/>
<rect x="696" y="444" width="54" height="78" opacity="0.07"/>
<rect x="696" y="544" width="54" height="62" opacity="0.02"/>
<rect x="697" y="619" width="53.4" height="70" opacity="0.03"/>
<rect x="762" y="444" width="54" height="75.5" opacity="0.07"/>
<rect x="762" y="541" width="54" height="65" opacity="0.02"/>
<rect x="764.4" y="619" width="51.6" height="70" opacity="0.03"/>
<rect x="828" y="444" width="54" height="78.5" opacity="0.07"/>
<rect x="828" y="542.5" width="54" height="63.5" opacity="0.02"/>
<rect x="830" y="619" width="51" height="70" opacity="0.03"/>
<rect x="896.5" y="444" width="54" height="80" opacity="0.07"/>
<rect x="896.5" y="543.6" width="54" height="62.4" opacity="0.02"/>
<rect x="895" y="619" width="53.8" height="70" opacity="0.03"/>
<rect x="964.5" y="444" width="54" height="80" opacity="0.07"/>
<rect x="964.5" y="544.5" width="54" height="61.5" opacity="0.02"/>
<rect x="962.8" y="619" width="51.9" height="70" opacity="0.03"/>
<rect x="1032" y="444" width="54" height="79" opacity="0.07"/>
<rect x="1032" y="544.5" width="54" height="61.5" opacity="0.02"/>
<rect x="1028.7" y="619" width="53.3" height="70" opacity="0.03"/>
<rect x="1099" y="444" width="54" height="80" opacity="0.07"/>
<rect x="1099" y="545" width="54" height="61" opacity="0.02"/>
<rect x="1096" y="619" width="52" height="70" opacity="0.03"/>
<rect x="1168.5" y="444" width="54" height="80" opacity="0.07"/>
<rect x="1168.5" y="543.6" width="54" height="59.8" opacity="0.02"/>
<rect x="1162" y="619" width="53" height="70" opacity="0.03"/>
<rect x="1238" y="444" width="54" height="79" opacity="0.07"/>
<rect x="1238" y="543.6" width="54" height="57.2" opacity="0.02"/>
<rect x="1229" y="619" width="53.6" height="70" opacity="0.03"/>
<rect x="1304" y="444" width="54" height="77" opacity="0.07"/>
<rect x="1304" y="541" width="54" height="57.2" opacity="0.02"/>
<rect x="1296.6" y="619" width="53.4" height="70" opacity="0.03"/>
<rect x="1370" y="444" width="54" height="68" opacity="0.07"/>
<rect x="1370" y="535" width="54" height="60.6" opacity="0.02"/>
<rect x="1364" y="619" width="51.5" height="70" opacity="0.03"/>
<rect x="1435" y="444" width="54" height="65" opacity="0.07"/>
<rect x="1435" y="534" width="54" height="59" opacity="0.02"/>
<rect x="1429.5" y="619" width="51.5" height="70" opacity="0.03"/>
<rect x="1503" y="444" width="54" height="72" opacity="0.07"/>
<rect x="1503" y="534" width="54" height="56.4" opacity="0.02"/>
<rect x="1495" y="619" width="54.6" height="70" opacity="0.03"/>
<rect x="1571" y="444" width="54" height="74" opacity="0.07"/>
<rect x="1571" y="539.5" width="54" height="48.3" opacity="0.02"/>
<rect x="1563.6" y="619" width="51.9" height="70" opacity="0.03"/>
<rect x="1639" y="444" width="54" height="73.5" opacity="0.07"/>
<rect x="1639" y="539.5" width="54" height="45.7" opacity="0.02"/>
<rect x="1629.5" y="619" width="53.5" height="70" opacity="0.03"/>
<rect x="1710" y="444" width="54" height="73.5" opacity="0.07"/>
<rect x="1710" y="541" width="54" height="41.6" opacity="0.02"/>
<rect x="1697" y="619" width="56" height="70" opacity="0.03"/>
<rect x="1779.6" y="444" width="54" height="72" opacity="0.07"/>
<rect x="1779.6" y="537" width="54" height="43" opacity="0.02"/>
<rect x="1767" y="619" width="53" height="70" opacity="0.03"/>
<rect x="1848" y="444" width="54" height="69" opacity="0.07"/>
<rect x="1848" y="534" width="54" height="43.4" opacity="0.02"/>
<rect x="1834" y="619" width="53.5" height="70" opacity="0.03"/>
<rect x="1920" y="444" width="54" height="62.5" opacity="0.07"/>
<rect x="1920" y="528.5" width="54" height="46.3" opacity="0.02"/>
<rect x="1901.5" y="619" width="68.5" height="70" opacity="0.03"/>
</g>
<rect x="312" y="441" width="1676" height="170" filter="url(#nz2)" clip-path="url(#cw)"/>
<g filter="url(#fg)" fill="#000">
<rect x="361" y="487.6" width="48" height="30" opacity="0.12"/>
<rect x="361" y="553.6" width="48" height="16" opacity="0.08"/>
<rect x="435" y="488" width="48" height="30" opacity="0.12"/>
<rect x="435" y="553.6" width="48" height="16" opacity="0.08"/>
<rect x="502" y="487" width="48" height="30" opacity="0.12"/>
<rect x="502" y="553" width="48" height="16" opacity="0.08"/>
<rect x="567" y="486.5" width="48" height="30" opacity="0.14"/>
<rect x="567" y="553.6" width="48" height="16" opacity="0.09"/>
<rect x="633" y="488" width="48" height="30" opacity="0.12"/>
<rect x="633" y="554" width="48" height="16" opacity="0.08"/>
<rect x="699" y="488" width="48" height="30" opacity="0.12"/>
<rect x="699" y="554" width="48" height="16" opacity="0.08"/>
<rect x="765" y="485.5" width="48" height="30" opacity="0.22"/>
<rect x="765" y="551" width="48" height="16" opacity="0.14"/>
<rect x="831" y="488.5" width="48" height="30" opacity="0.20"/>
<rect x="831" y="552.5" width="48" height="16" opacity="0.13"/>
<rect x="899.5" y="490" width="48" height="30" opacity="0.19"/>
<rect x="899.5" y="553.6" width="48" height="16" opacity="0.12"/>
<rect x="967.5" y="490" width="48" height="30" opacity="0.18"/>
<rect x="967.5" y="554.5" width="48" height="16" opacity="0.11"/>
<rect x="1035" y="489" width="48" height="30" opacity="0.14"/>
<rect x="1035" y="554.5" width="48" height="16" opacity="0.09"/>
<rect x="1102" y="490" width="48" height="30" opacity="0.17"/>
<rect x="1102" y="555" width="48" height="16" opacity="0.10"/>
<rect x="1171.5" y="490" width="48" height="30" opacity="0.17"/>
<rect x="1171.5" y="553.6" width="48" height="16" opacity="0.10"/>
<rect x="1241" y="489" width="48" height="30" opacity="0.15"/>
<rect x="1241" y="553.6" width="48" height="16" opacity="0.10"/>
<rect x="1307" y="487" width="48" height="30" opacity="0.15"/>
<rect x="1307" y="551" width="48" height="16" opacity="0.10"/>
<rect x="1373" y="478" width="48" height="30" opacity="0.23"/>
<rect x="1373" y="545" width="48" height="16" opacity="0.15"/>
<rect x="1438" y="475" width="48" height="30" opacity="0.20"/>
<rect x="1438" y="544" width="48" height="16" opacity="0.13"/>
<rect x="1506" y="482" width="48" height="30" opacity="0.13"/>
<rect x="1506" y="544" width="48" height="16" opacity="0.08"/>
<rect x="1574" y="484" width="48" height="30" opacity="0.21"/>
<rect x="1574" y="549.5" width="48" height="16" opacity="0.13"/>
<rect x="1642" y="483.5" width="48" height="30" opacity="0.07"/>
<rect x="1642" y="549.5" width="48" height="16" opacity="0.04"/>
<rect x="1713" y="483.5" width="48" height="30" opacity="0.14"/>
<rect x="1713" y="551" width="48" height="16" opacity="0.09"/>
<rect x="1782.6" y="482" width="48" height="30" opacity="0.19"/>
<rect x="1782.6" y="547" width="48" height="16" opacity="0.12"/>
<rect x="1851" y="479" width="48" height="30" opacity="0.14"/>
<rect x="1851" y="544" width="48" height="16" opacity="0.09"/>
<rect x="1923" y="472.5" width="48" height="30" opacity="0.15"/>
<rect x="1923" y="538.5" width="48" height="16" opacity="0.10"/>
<rect x="765" y="475.5" width="48" height="26" opacity="0.2"/>
<rect x="899.5" y="484" width="48" height="26" opacity="0.14"/>
<rect x="1373" y="472" width="48" height="26" opacity="0.26"/>
<rect x="1782.6" y="460" width="48" height="26" opacity="0.24"/>
<rect x="1923" y="470.5" width="48" height="26" opacity="0.14"/>
<rect x="1574" y="478" width="48" height="26" opacity="0.1"/>
<rect x="967.5" y="484" width="48" height="26" opacity="0.1"/>
<rect x="1438" y="473" width="48" height="26" opacity="0.12"/>
</g>
<g filter="url(#fh)" fill="#000">
<rect x="357" y="510.6" width="56" height="46" rx="3" opacity="0.36"/>
<rect x="431" y="511" width="56" height="45.6" rx="3" opacity="0.40"/>
<rect x="498" y="510" width="56" height="46" rx="3" opacity="0.36"/>
<rect x="563" y="509.5" width="56" height="47.1" rx="3" opacity="0.47"/>
<rect x="629" y="511" width="56" height="46" rx="3" opacity="0.39"/>
<rect x="695" y="511" width="56" height="46" rx="3" opacity="0.43"/>
<rect x="761" y="508.5" width="56" height="45.5" rx="3" opacity="0.58"/>
<rect x="827" y="511.5" width="56" height="44" rx="3" opacity="0.54"/>
<rect x="895.5" y="513" width="56" height="43.6" rx="3" opacity="0.52"/>
<rect x="963.5" y="513" width="56" height="44.5" rx="3" opacity="0.51"/>
<rect x="1031" y="512" width="56" height="45.5" rx="3" opacity="0.44"/>
<rect x="1098" y="513" width="56" height="45" rx="3" opacity="0.53"/>
<rect x="1167.5" y="513" width="56" height="43.6" rx="3" opacity="0.45"/>
<rect x="1237" y="512" width="56" height="44.6" rx="3" opacity="0.45"/>
<rect x="1303" y="510" width="56" height="44" rx="3" opacity="0.48"/>
<rect x="1369" y="501" width="56" height="47" rx="3" opacity="0.49"/>
<rect x="1434" y="498" width="56" height="49" rx="3" opacity="0.48"/>
<rect x="1502" y="505" width="56" height="42" rx="3" opacity="0.32"/>
<rect x="1570" y="507" width="56" height="45.5" rx="3" opacity="0.59"/>
<rect x="1638" y="506.5" width="56" height="46" rx="3" opacity="0.28"/>
<rect x="1709" y="506.5" width="56" height="47.5" rx="3" opacity="0.39"/>
<rect x="1778.6" y="505" width="56" height="45" rx="3" opacity="0.47"/>
<rect x="1847" y="502" width="56" height="45" rx="3" opacity="0.43"/>
<rect x="1919" y="495.5" width="56" height="46" rx="3" opacity="0.41"/>
</g>
<g filter="url(#fk)" fill="#000">
<rect x="358" y="516.1" width="54" height="11" rx="6" opacity="0.44" transform="rotate(0 385 521.6)"/>
<rect x="358" y="538.85" width="54" height="9.5" rx="5" opacity="0.36" transform="rotate(0 385 543.6)"/>
<rect x="432" y="516.5" width="54" height="11" rx="6" opacity="0.54" transform="rotate(0 459 522)"/>
<rect x="432" y="538.85" width="54" height="9.5" rx="5" opacity="0.42" transform="rotate(0 459 543.6)"/>
<rect x="499" y="515.5" width="54" height="11" rx="6" opacity="0.44" transform="rotate(0 526 521)"/>
<rect x="499" y="538.25" width="54" height="9.5" rx="5" opacity="0.37" transform="rotate(0 526 543)"/>
<rect x="564" y="515" width="54" height="11" rx="6" opacity="0.68" transform="rotate(0 591 520.5)"/>
<rect x="564" y="538.85" width="54" height="9.5" rx="5" opacity="0.51" transform="rotate(0 591 543.6)"/>
<rect x="630" y="516.5" width="54" height="11" rx="6" opacity="0.50" transform="rotate(0 657 522)"/>
<rect x="630" y="539.25" width="54" height="9.5" rx="5" opacity="0.42" transform="rotate(0 657 544)"/>
<rect x="696" y="516.5" width="54" height="11" rx="6" opacity="0.54" transform="rotate(0 723 522)"/>
<rect x="696" y="539.25" width="54" height="9.5" rx="5" opacity="0.48" transform="rotate(0 723 544)"/>
<rect x="762" y="512.5" width="54" height="14" rx="6" opacity="0.77" transform="rotate(0 789 519.5)"/>
<rect x="762" y="535" width="54" height="12" rx="5" opacity="0.78" transform="rotate(0 789 541)"/>
<rect x="828" y="517" width="54" height="11" rx="6" opacity="0.72" transform="rotate(0 855 522.5)"/>
<rect x="828" y="537.75" width="54" height="9.5" rx="5" opacity="0.69" transform="rotate(0 855 542.5)"/>
<rect x="896.5" y="518.5" width="54" height="11" rx="6" opacity="0.62" transform="rotate(0 923.5 524)"/>
<rect x="896.5" y="538.85" width="54" height="9.5" rx="5" opacity="0.72" transform="rotate(0 923.5 543.6)"/>
<rect x="964.5" y="518.5" width="54" height="11" rx="6" opacity="0.59" transform="rotate(0 991.5 524)"/>
<rect x="964.5" y="538.5" width="54" height="12" rx="5" opacity="0.77" transform="rotate(0 991.5 544.5)"/>
<rect x="1032" y="517.5" width="54" height="11" rx="6" opacity="0.50" transform="rotate(0 1059 523)"/>
<rect x="1032" y="539.75" width="54" height="9.5" rx="5" opacity="0.58" transform="rotate(0 1059 544.5)"/>
<rect x="1099" y="518.5" width="54" height="11" rx="6" opacity="0.64" transform="rotate(0 1126 524)"/>
<rect x="1099" y="539" width="54" height="12" rx="5" opacity="0.77" transform="rotate(0 1126 545)"/>
<rect x="1168.5" y="518.5" width="54" height="11" rx="6" opacity="0.53" transform="rotate(0 1195.5 524)"/>
<rect x="1168.5" y="538.85" width="54" height="9.5" rx="5" opacity="0.59" transform="rotate(0 1195.5 543.6)"/>
<rect x="1238" y="517.5" width="54" height="11" rx="6" opacity="0.53" transform="rotate(0 1265 523)"/>
<rect x="1238" y="538.85" width="54" height="9.5" rx="5" opacity="0.59" transform="rotate(0 1265 543.6)"/>
<rect x="1304" y="515.5" width="54" height="11" rx="6" opacity="0.64" transform="rotate(0 1331 521)"/>
<rect x="1304" y="536.25" width="54" height="9.5" rx="5" opacity="0.56" transform="rotate(0 1331 541)"/>
<rect x="1370" y="505" width="54" height="14" rx="6" opacity="0.78" transform="rotate(0 1397 512)"/>
<rect x="1370" y="530.25" width="54" height="9.5" rx="5" opacity="0.53" transform="rotate(0 1397 535)"/>
<rect x="1435" y="502" width="54" height="14" rx="6" opacity="0.74" transform="rotate(0 1462 509)"/>
<rect x="1435" y="529.25" width="54" height="9.5" rx="5" opacity="0.51" transform="rotate(0 1462 534)"/>
<rect x="1503" y="510.5" width="54" height="11" rx="6" opacity="0.42" transform="rotate(0 1530 516)"/>
<rect x="1503" y="529.25" width="54" height="9.5" rx="5" opacity="0.27" transform="rotate(0 1530 534)"/>
<rect x="1571" y="511" width="54" height="14" rx="6" opacity="0.80" transform="rotate(0 1598 518)"/>
<rect x="1571" y="533.5" width="54" height="12" rx="5" opacity="0.77" transform="rotate(0 1598 539.5)"/>
<rect x="1639" y="512" width="54" height="11" rx="6" opacity="0.21" transform="rotate(0 1666 517.5)"/>
<rect x="1639" y="534.75" width="54" height="9.5" rx="5" opacity="0.32" transform="rotate(0 1666 539.5)"/>
<rect x="1710" y="512" width="54" height="11" rx="6" opacity="0.29" transform="rotate(-2 1737 517.5)"/>
<rect x="1710" y="535" width="54" height="12" rx="5" opacity="0.74" transform="rotate(-2 1737 541)"/>
<rect x="1779.6" y="510.5" width="54" height="11" rx="6" opacity="0.53" transform="rotate(-2 1806.6 516)"/>
<rect x="1779.6" y="532.25" width="54" height="9.5" rx="5" opacity="0.69" transform="rotate(-2 1806.6 537)"/>
<rect x="1848" y="507.5" width="54" height="11" rx="6" opacity="0.50" transform="rotate(-2 1875 513)"/>
<rect x="1848" y="529.25" width="54" height="9.5" rx="5" opacity="0.54" transform="rotate(-2 1875 534)"/>
<rect x="1920" y="501" width="54" height="11" rx="6" opacity="0.46" transform="rotate(-4 1947 506.5)"/>
<rect x="1920" y="523.75" width="54" height="9.5" rx="5" opacity="0.48" transform="rotate(-4 1947 528.5)"/>
</g>
<g filter="url(#fa)" fill="#000">
<path d="M330 660.12 L333.01 656.41 L336.01 655.1 L339.02 654.29 L342.03 653.76 L345.04 653.42 L348.04 653.21 L351.05 653.1 L354.06 653.07 L357.06 653.08 L360.07 653.13 L363.08 653.2 L366.09 653.28 L369.09 653.36 L372.1 653.42 L375.11 653.47 L378.11 653.51 L381.12 653.54 L384.13 653.59 L387.14 653.65 L390.14 653.75 L393.15 653.9 L396.16 654.13 L399.16 654.45 L402.17 654.91 L405.18 655.55 L408.19 656.47 L411.19 657.9 L414.2 661.72 L414.2 661.72 L411.19 665.87 L408.19 667.59 L405.18 668.77 L402.17 669.64 L399.16 670.3 L396.16 670.78 L393.15 671.14 L390.14 671.38 L387.14 671.55 L384.13 671.65 L381.12 671.69 L378.11 671.69 L375.11 671.67 L372.1 671.62 L369.09 671.55 L366.09 671.47 L363.08 671.35 L360.07 671.19 L357.06 670.98 L354.06 670.7 L351.05 670.34 L348.04 669.87 L345.04 669.27 L342.03 668.5 L339.02 667.52 L336.01 666.22 L333.01 664.38 L330 660.12Z"/>
<path d="M411 661.92 L413.71 658.16 L416.43 656.79 L419.14 655.92 L421.86 655.33 L424.57 654.94 L427.29 654.67 L430 654.5 L432.71 654.41 L435.43 654.37 L438.14 654.36 L440.86 654.37 L443.57 654.39 L446.29 654.41 L449 654.42 L451.71 654.41 L454.43 654.39 L457.14 654.37 L459.86 654.36 L462.57 654.37 L465.29 654.41 L468 654.5 L470.71 654.67 L473.43 654.94 L476.14 655.33 L478.86 655.92 L481.57 656.79 L484.29 658.16 L487 661.92 L487 661.92 L484.29 666.12 L481.57 667.9 L478.86 669.14 L476.14 670.07 L473.43 670.78 L470.71 671.32 L468 671.74 L465.29 672.04 L462.57 672.26 L459.86 672.42 L457.14 672.52 L454.43 672.58 L451.71 672.61 L449 672.62 L446.29 672.61 L443.57 672.58 L440.86 672.52 L438.14 672.42 L435.43 672.26 L432.71 672.04 L430 671.74 L427.29 671.32 L424.57 670.78 L421.86 670.07 L419.14 669.14 L416.43 667.9 L413.71 666.12 L411 661.92Z"/>
<path d="M483.8 661.92 L486.42 658.16 L489.04 656.79 L491.65 655.92 L494.27 655.33 L496.89 654.94 L499.51 654.67 L502.13 654.5 L504.74 654.41 L507.36 654.37 L509.98 654.36 L512.6 654.37 L515.21 654.39 L517.83 654.41 L520.45 654.42 L523.07 654.41 L525.69 654.39 L528.3 654.37 L530.92 654.36 L533.54 654.37 L536.16 654.41 L538.78 654.5 L541.39 654.67 L544.01 654.94 L546.63 655.33 L549.25 655.92 L551.86 656.79 L554.48 658.16 L557.1 661.92 L557.1 661.92 L554.48 666.12 L551.86 667.9 L549.25 669.14 L546.63 670.07 L544.01 670.78 L541.39 671.32 L538.78 671.74 L536.16 672.04 L533.54 672.26 L530.92 672.42 L528.3 672.52 L525.69 672.58 L523.07 672.61 L520.45 672.62 L517.83 672.61 L515.21 672.58 L512.6 672.52 L509.98 672.42 L507.36 672.26 L504.74 672.04 L502.13 671.74 L499.51 671.32 L496.89 670.78 L494.27 670.07 L491.65 669.14 L489.04 667.9 L486.42 666.12 L483.8 661.92Z"/>
<path d="M553.9 661.62 L556.37 657.91 L558.84 656.6 L561.3 655.79 L563.77 655.26 L566.24 654.92 L568.71 654.71 L571.18 654.6 L573.64 654.57 L576.11 654.58 L578.58 654.63 L581.05 654.7 L583.51 654.78 L585.98 654.86 L588.45 654.92 L590.92 654.97 L593.39 655.01 L595.85 655.04 L598.32 655.09 L600.79 655.15 L603.26 655.25 L605.73 655.4 L608.19 655.63 L610.66 655.95 L613.13 656.41 L615.6 657.05 L618.06 657.97 L620.53 659.4 L623 663.22 L623 663.22 L620.53 667.37 L618.06 669.09 L615.6 670.27 L613.13 671.14 L610.66 671.8 L608.19 672.28 L605.73 672.64 L603.26 672.88 L600.79 673.05 L598.32 673.15 L595.85 673.19 L593.39 673.19 L590.92 673.17 L588.45 673.12 L585.98 673.05 L583.51 672.97 L581.05 672.85 L578.58 672.69 L576.11 672.48 L573.64 672.2 L571.18 671.84 L568.71 671.37 L566.24 670.77 L563.77 670 L561.3 669.02 L558.84 667.72 L556.37 665.88 L553.9 661.62Z"/>
<path d="M619.8 659.62 L622.36 655.91 L624.93 654.6 L627.49 653.79 L630.06 653.26 L632.62 652.92 L635.19 652.71 L637.75 652.6 L640.31 652.57 L642.88 652.58 L645.44 652.63 L648.01 652.7 L650.57 652.78 L653.14 652.86 L655.7 652.92 L658.26 652.97 L660.83 653.01 L663.39 653.04 L665.96 653.09 L668.52 653.15 L671.09 653.25 L673.65 653.4 L676.21 653.63 L678.78 653.95 L681.34 654.41 L683.91 655.05 L686.47 655.97 L689.04 657.4 L691.6 661.22 L691.6 661.22 L689.04 665.37 L686.47 667.09 L683.91 668.27 L681.34 669.14 L678.78 669.8 L676.21 670.28 L673.65 670.64 L671.09 670.88 L668.52 671.05 L665.96 671.15 L663.39 671.19 L660.83 671.19 L658.26 671.17 L655.7 671.12 L653.14 671.05 L650.57 670.97 L648.01 670.85 L645.44 670.69 L642.88 670.48 L640.31 670.2 L637.75 669.84 L635.19 669.37 L632.62 668.77 L630.06 668 L627.49 667.02 L624.93 665.72 L622.36 663.88 L619.8 659.62Z"/>
<path d="M688.4 659.92 L690.92 656.16 L693.44 654.79 L695.96 653.92 L698.49 653.33 L701.01 652.94 L703.53 652.67 L706.05 652.5 L708.57 652.41 L711.09 652.37 L713.61 652.36 L716.14 652.37 L718.66 652.39 L721.18 652.41 L723.7 652.42 L726.22 652.41 L728.74 652.39 L731.26 652.37 L733.79 652.36 L736.31 652.37 L738.83 652.41 L741.35 652.5 L743.87 652.67 L746.39 652.94 L748.91 653.33 L751.44 653.92 L753.96 654.79 L756.48 656.16 L759 659.92 L759 659.92 L756.48 664.12 L753.96 665.9 L751.44 667.14 L748.91 668.07 L746.39 668.78 L743.87 669.32 L741.35 669.74 L738.83 670.04 L736.31 670.26 L733.79 670.42 L731.26 670.52 L728.74 670.58 L726.22 670.61 L723.7 670.62 L721.18 670.61 L718.66 670.58 L716.14 670.52 L713.61 670.42 L711.09 670.26 L708.57 670.04 L706.05 669.74 L703.53 669.32 L701.01 668.78 L698.49 668.07 L695.96 667.14 L693.44 665.9 L690.92 664.12 L688.4 659.92Z"/>
<path d="M755.8 659.42 L758.26 655.66 L760.71 654.29 L763.17 653.42 L765.63 652.83 L768.09 652.44 L770.54 652.17 L773 652 L775.46 651.91 L777.91 651.87 L780.37 651.86 L782.83 651.87 L785.29 651.89 L787.74 651.91 L790.2 651.92 L792.66 651.91 L795.11 651.89 L797.57 651.87 L800.03 651.86 L802.49 651.87 L804.94 651.91 L807.4 652 L809.86 652.17 L812.31 652.44 L814.77 652.83 L817.23 653.42 L819.69 654.29 L822.14 655.66 L824.6 659.42 L824.6 659.42 L822.14 663.62 L819.69 665.4 L817.23 666.64 L814.77 667.57 L812.31 668.28 L809.86 668.82 L807.4 669.24 L804.94 669.54 L802.49 669.76 L800.03 669.92 L797.57 670.02 L795.11 670.08 L792.66 670.11 L790.2 670.12 L787.74 670.11 L785.29 670.08 L782.83 670.02 L780.37 669.92 L777.91 669.76 L775.46 669.54 L773 669.24 L770.54 668.82 L768.09 668.28 L765.63 667.57 L763.17 666.64 L760.71 665.4 L758.26 663.62 L755.8 659.42Z"/>
<path d="M821.4 659.42 L823.84 655.66 L826.27 654.29 L828.71 653.42 L831.14 652.83 L833.58 652.44 L836.01 652.17 L838.45 652 L840.89 651.91 L843.32 651.87 L845.76 651.86 L848.19 651.87 L850.63 651.89 L853.06 651.91 L855.5 651.92 L857.94 651.91 L860.37 651.89 L862.81 651.87 L865.24 651.86 L867.68 651.87 L870.11 651.91 L872.55 652 L874.99 652.17 L877.42 652.44 L879.86 652.83 L882.29 653.42 L884.73 654.29 L887.16 655.66 L889.6 659.42 L889.6 659.42 L887.16 663.62 L884.73 665.4 L882.29 666.64 L879.86 667.57 L877.42 668.28 L874.99 668.82 L872.55 669.24 L870.11 669.54 L867.68 669.76 L865.24 669.92 L862.81 670.02 L860.37 670.08 L857.94 670.11 L855.5 670.12 L853.06 670.11 L850.63 670.08 L848.19 670.02 L845.76 669.92 L843.32 669.76 L840.89 669.54 L838.45 669.24 L836.01 668.82 L833.58 668.28 L831.14 667.57 L828.71 666.64 L826.27 665.4 L823.84 663.62 L821.4 659.42Z"/>
<path d="M886.4 659.42 L888.94 655.66 L891.47 654.29 L894.01 653.42 L896.54 652.83 L899.08 652.44 L901.61 652.17 L904.15 652 L906.69 651.91 L909.22 651.87 L911.76 651.86 L914.29 651.87 L916.83 651.89 L919.36 651.91 L921.9 651.92 L924.44 651.91 L926.97 651.89 L929.51 651.87 L932.04 651.86 L934.58 651.87 L937.11 651.91 L939.65 652 L942.19 652.17 L944.72 652.44 L947.26 652.83 L949.79 653.42 L952.33 654.29 L954.86 655.66 L957.4 659.42 L957.4 659.42 L954.86 663.62 L952.33 665.4 L949.79 666.64 L947.26 667.57 L944.72 668.28 L942.19 668.82 L939.65 669.24 L937.11 669.54 L934.58 669.76 L932.04 669.92 L929.51 670.02 L926.97 670.08 L924.44 670.11 L921.9 670.12 L919.36 670.11 L916.83 670.08 L914.29 670.02 L911.76 669.92 L909.22 669.76 L906.69 669.54 L904.15 669.24 L901.61 668.82 L899.08 668.28 L896.54 667.57 L894.01 666.64 L891.47 665.4 L888.94 663.62 L886.4 659.42Z"/>
<path d="M954.2 659.02 L956.67 655.21 L959.14 653.8 L961.6 652.89 L964.07 652.26 L966.54 651.82 L969.01 651.51 L971.48 651.3 L973.94 651.17 L976.41 651.08 L978.88 651.03 L981.35 651 L983.81 650.98 L986.28 650.96 L988.75 650.92 L991.22 650.87 L993.69 650.81 L996.15 650.74 L998.62 650.69 L1001.09 650.65 L1003.56 650.65 L1006.02 650.7 L1008.49 650.83 L1010.96 651.05 L1013.43 651.41 L1015.9 651.95 L1018.36 652.77 L1020.83 654.1 L1023.3 657.82 L1023.3 657.82 L1020.83 662.07 L1018.36 663.89 L1015.9 665.17 L1013.43 666.14 L1010.96 666.9 L1008.49 667.48 L1006.02 667.94 L1003.56 668.28 L1001.09 668.55 L998.62 668.75 L996.15 668.89 L993.69 668.99 L991.22 669.07 L988.75 669.12 L986.28 669.15 L983.81 669.17 L981.35 669.15 L978.88 669.09 L976.41 668.98 L973.94 668.8 L971.48 668.54 L969.01 668.17 L966.54 667.67 L964.07 667 L961.6 666.12 L959.14 664.92 L956.67 663.18 L954.2 659.02Z"/>
<path d="M1020.1 658.52 L1022.62 654.71 L1025.14 653.3 L1027.65 652.39 L1030.17 651.76 L1032.69 651.32 L1035.21 651.01 L1037.72 650.8 L1040.24 650.67 L1042.76 650.58 L1045.28 650.53 L1047.8 650.5 L1050.31 650.48 L1052.83 650.46 L1055.35 650.42 L1057.87 650.37 L1060.39 650.31 L1062.9 650.24 L1065.42 650.19 L1067.94 650.15 L1070.46 650.15 L1072.97 650.2 L1075.49 650.33 L1078.01 650.55 L1080.53 650.91 L1083.05 651.45 L1085.56 652.27 L1088.08 653.6 L1090.6 657.32 L1090.6 657.32 L1088.08 661.57 L1085.56 663.39 L1083.05 664.67 L1080.53 665.64 L1078.01 666.4 L1075.49 666.98 L1072.97 667.44 L1070.46 667.78 L1067.94 668.05 L1065.42 668.25 L1062.9 668.39 L1060.39 668.49 L1057.87 668.57 L1055.35 668.62 L1052.83 668.65 L1050.31 668.67 L1047.8 668.65 L1045.28 668.59 L1042.76 668.48 L1040.24 668.3 L1037.72 668.04 L1035.21 667.67 L1032.69 667.17 L1030.17 666.5 L1027.65 665.62 L1025.14 664.42 L1022.62 662.68 L1020.1 658.52Z"/>
<path d="M1087.4 656.92 L1089.87 653.16 L1092.34 651.79 L1094.81 650.92 L1097.29 650.33 L1099.76 649.94 L1102.23 649.67 L1104.7 649.5 L1107.17 649.41 L1109.64 649.37 L1112.11 649.36 L1114.59 649.37 L1117.06 649.39 L1119.53 649.41 L1122 649.42 L1124.47 649.41 L1126.94 649.39 L1129.41 649.37 L1131.89 649.36 L1134.36 649.37 L1136.83 649.41 L1139.3 649.5 L1141.77 649.67 L1144.24 649.94 L1146.71 650.33 L1149.19 650.92 L1151.66 651.79 L1154.13 653.16 L1156.6 656.92 L1156.6 656.92 L1154.13 661.12 L1151.66 662.9 L1149.19 664.14 L1146.71 665.07 L1144.24 665.78 L1141.77 666.32 L1139.3 666.74 L1136.83 667.04 L1134.36 667.26 L1131.89 667.42 L1129.41 667.52 L1126.94 667.58 L1124.47 667.61 L1122 667.62 L1119.53 667.61 L1117.06 667.58 L1114.59 667.52 L1112.11 667.42 L1109.64 667.26 L1107.17 667.04 L1104.7 666.74 L1102.23 666.32 L1099.76 665.78 L1097.29 665.07 L1094.81 664.14 L1092.34 662.9 L1089.87 661.12 L1087.4 656.92Z"/>
<path d="M1153.4 656.92 L1155.91 653.16 L1158.41 651.79 L1160.92 650.92 L1163.43 650.33 L1165.94 649.94 L1168.44 649.67 L1170.95 649.5 L1173.46 649.41 L1175.96 649.37 L1178.47 649.36 L1180.98 649.37 L1183.49 649.39 L1185.99 649.41 L1188.5 649.42 L1191.01 649.41 L1193.51 649.39 L1196.02 649.37 L1198.53 649.36 L1201.04 649.37 L1203.54 649.41 L1206.05 649.5 L1208.56 649.67 L1211.06 649.94 L1213.57 650.33 L1216.08 650.92 L1218.59 651.79 L1221.09 653.16 L1223.6 656.92 L1223.6 656.92 L1221.09 661.12 L1218.59 662.9 L1216.08 664.14 L1213.57 665.07 L1211.06 665.78 L1208.56 666.32 L1206.05 666.74 L1203.54 667.04 L1201.04 667.26 L1198.53 667.42 L1196.02 667.52 L1193.51 667.58 L1191.01 667.61 L1188.5 667.62 L1185.99 667.61 L1183.49 667.58 L1180.98 667.52 L1178.47 667.42 L1175.96 667.26 L1173.46 667.04 L1170.95 666.74 L1168.44 666.32 L1165.94 665.78 L1163.43 665.07 L1160.92 664.14 L1158.41 662.9 L1155.91 661.12 L1153.4 656.92Z"/>
<path d="M1220.4 656.92 L1222.93 653.16 L1225.46 651.79 L1227.99 650.92 L1230.51 650.33 L1233.04 649.94 L1235.57 649.67 L1238.1 649.5 L1240.63 649.41 L1243.16 649.37 L1245.69 649.36 L1248.21 649.37 L1250.74 649.39 L1253.27 649.41 L1255.8 649.42 L1258.33 649.41 L1260.86 649.39 L1263.39 649.37 L1265.91 649.36 L1268.44 649.37 L1270.97 649.41 L1273.5 649.5 L1276.03 649.67 L1278.56 649.94 L1281.09 650.33 L1283.61 650.92 L1286.14 651.79 L1288.67 653.16 L1291.2 656.92 L1291.2 656.92 L1288.67 661.12 L1286.14 662.9 L1283.61 664.14 L1281.09 665.07 L1278.56 665.78 L1276.03 666.32 L1273.5 666.74 L1270.97 667.04 L1268.44 667.26 L1265.91 667.42 L1263.39 667.52 L1260.86 667.58 L1258.33 667.61 L1255.8 667.62 L1253.27 667.61 L1250.74 667.58 L1248.21 667.52 L1245.69 667.42 L1243.16 667.26 L1240.63 667.04 L1238.1 666.74 L1235.57 666.32 L1233.04 665.78 L1230.51 665.07 L1227.99 664.14 L1225.46 662.9 L1222.93 661.12 L1220.4 656.92Z"/>
<path d="M1288 656.92 L1290.52 653.16 L1293.04 651.79 L1295.56 650.92 L1298.09 650.33 L1300.61 649.94 L1303.13 649.67 L1305.65 649.5 L1308.17 649.41 L1310.69 649.37 L1313.21 649.36 L1315.74 649.37 L1318.26 649.39 L1320.78 649.41 L1323.3 649.42 L1325.82 649.41 L1328.34 649.39 L1330.86 649.37 L1333.39 649.36 L1335.91 649.37 L1338.43 649.41 L1340.95 649.5 L1343.47 649.67 L1345.99 649.94 L1348.51 650.33 L1351.04 650.92 L1353.56 651.79 L1356.08 653.16 L1358.6 656.92 L1358.6 656.92 L1356.08 661.12 L1353.56 662.9 L1351.04 664.14 L1348.51 665.07 L1345.99 665.78 L1343.47 666.32 L1340.95 666.74 L1338.43 667.04 L1335.91 667.26 L1333.39 667.42 L1330.86 667.52 L1328.34 667.58 L1325.82 667.61 L1323.3 667.62 L1320.78 667.61 L1318.26 667.58 L1315.74 667.52 L1313.21 667.42 L1310.69 667.26 L1308.17 667.04 L1305.65 666.74 L1303.13 666.32 L1300.61 665.78 L1298.09 665.07 L1295.56 664.14 L1293.04 662.9 L1290.52 661.12 L1288 656.92Z"/>
<path d="M1355.4 656.92 L1357.85 653.16 L1360.31 651.79 L1362.76 650.92 L1365.21 650.33 L1367.67 649.94 L1370.12 649.67 L1372.58 649.5 L1375.03 649.41 L1377.48 649.37 L1379.94 649.36 L1382.39 649.37 L1384.84 649.39 L1387.3 649.41 L1389.75 649.42 L1392.2 649.41 L1394.66 649.39 L1397.11 649.37 L1399.56 649.36 L1402.02 649.37 L1404.47 649.41 L1406.92 649.5 L1409.38 649.67 L1411.83 649.94 L1414.29 650.33 L1416.74 650.92 L1419.19 651.79 L1421.65 653.16 L1424.1 656.92 L1424.1 656.92 L1421.65 661.12 L1419.19 662.9 L1416.74 664.14 L1414.29 665.07 L1411.83 665.78 L1409.38 666.32 L1406.92 666.74 L1404.47 667.04 L1402.02 667.26 L1399.56 667.42 L1397.11 667.52 L1394.66 667.58 L1392.2 667.61 L1389.75 667.62 L1387.3 667.61 L1384.84 667.58 L1382.39 667.52 L1379.94 667.42 L1377.48 667.26 L1375.03 667.04 L1372.58 666.74 L1370.12 666.32 L1367.67 665.78 L1365.21 665.07 L1362.76 664.14 L1360.31 662.9 L1357.85 661.12 L1355.4 656.92Z"/>
<path d="M1420.9 656.42 L1423.35 652.66 L1425.81 651.29 L1428.26 650.42 L1430.71 649.83 L1433.17 649.44 L1435.62 649.17 L1438.08 649 L1440.53 648.91 L1442.98 648.87 L1445.44 648.86 L1447.89 648.87 L1450.34 648.89 L1452.8 648.91 L1455.25 648.92 L1457.7 648.91 L1460.16 648.89 L1462.61 648.87 L1465.06 648.86 L1467.52 648.87 L1469.97 648.91 L1472.42 649 L1474.88 649.17 L1477.33 649.44 L1479.79 649.83 L1482.24 650.42 L1484.69 651.29 L1487.15 652.66 L1489.6 656.42 L1489.6 656.42 L1487.15 660.62 L1484.69 662.4 L1482.24 663.64 L1479.79 664.57 L1477.33 665.28 L1474.88 665.82 L1472.42 666.24 L1469.97 666.54 L1467.52 666.76 L1465.06 666.92 L1462.61 667.02 L1460.16 667.08 L1457.7 667.11 L1455.25 667.12 L1452.8 667.11 L1450.34 667.08 L1447.89 667.02 L1445.44 666.92 L1442.98 666.76 L1440.53 666.54 L1438.08 666.24 L1435.62 665.82 L1433.17 665.28 L1430.71 664.57 L1428.26 663.64 L1425.81 662.4 L1423.35 660.62 L1420.9 656.42Z"/>
<path d="M1486.4 656.42 L1488.96 652.66 L1491.53 651.29 L1494.09 650.42 L1496.66 649.83 L1499.22 649.44 L1501.79 649.17 L1504.35 649 L1506.91 648.91 L1509.48 648.87 L1512.04 648.86 L1514.61 648.87 L1517.17 648.89 L1519.74 648.91 L1522.3 648.92 L1524.86 648.91 L1527.43 648.89 L1529.99 648.87 L1532.56 648.86 L1535.12 648.87 L1537.69 648.91 L1540.25 649 L1542.81 649.17 L1545.38 649.44 L1547.94 649.83 L1550.51 650.42 L1553.07 651.29 L1555.64 652.66 L1558.2 656.42 L1558.2 656.42 L1555.64 660.62 L1553.07 662.4 L1550.51 663.64 L1547.94 664.57 L1545.38 665.28 L1542.81 665.82 L1540.25 666.24 L1537.69 666.54 L1535.12 666.76 L1532.56 666.92 L1529.99 667.02 L1527.43 667.08 L1524.86 667.11 L1522.3 667.12 L1519.74 667.11 L1517.17 667.08 L1514.61 667.02 L1512.04 666.92 L1509.48 666.76 L1506.91 666.54 L1504.35 666.24 L1501.79 665.82 L1499.22 665.28 L1496.66 664.57 L1494.09 663.64 L1491.53 662.4 L1488.96 660.62 L1486.4 656.42Z"/>
<path d="M1555 656.92 L1557.47 653.16 L1559.94 651.79 L1562.4 650.92 L1564.87 650.33 L1567.34 649.94 L1569.81 649.67 L1572.27 649.5 L1574.74 649.41 L1577.21 649.37 L1579.68 649.36 L1582.15 649.37 L1584.61 649.39 L1587.08 649.41 L1589.55 649.42 L1592.02 649.41 L1594.49 649.39 L1596.95 649.37 L1599.42 649.36 L1601.89 649.37 L1604.36 649.41 L1606.83 649.5 L1609.29 649.67 L1611.76 649.94 L1614.23 650.33 L1616.7 650.92 L1619.16 651.79 L1621.63 653.16 L1624.1 656.92 L1624.1 656.92 L1621.63 661.12 L1619.16 662.9 L1616.7 664.14 L1614.23 665.07 L1611.76 665.78 L1609.29 666.32 L1606.83 666.74 L1604.36 667.04 L1601.89 667.26 L1599.42 667.42 L1596.95 667.52 L1594.49 667.58 L1592.02 667.61 L1589.55 667.62 L1587.08 667.61 L1584.61 667.58 L1582.15 667.52 L1579.68 667.42 L1577.21 667.26 L1574.74 667.04 L1572.27 666.74 L1569.81 666.32 L1567.34 665.78 L1564.87 665.07 L1562.4 664.14 L1559.94 662.9 L1557.47 661.12 L1555 656.92Z"/>
<path d="M1620.9 655.92 L1623.42 652.16 L1625.95 650.79 L1628.47 649.92 L1631 649.33 L1633.53 648.94 L1636.05 648.67 L1638.58 648.5 L1641.1 648.41 L1643.62 648.37 L1646.15 648.36 L1648.67 648.37 L1651.2 648.39 L1653.72 648.41 L1656.25 648.42 L1658.78 648.41 L1661.3 648.39 L1663.83 648.37 L1666.35 648.36 L1668.88 648.37 L1671.4 648.41 L1673.92 648.5 L1676.45 648.67 L1678.97 648.94 L1681.5 649.33 L1684.03 649.92 L1686.55 650.79 L1689.08 652.16 L1691.6 655.92 L1691.6 655.92 L1689.08 660.12 L1686.55 661.9 L1684.03 663.14 L1681.5 664.07 L1678.97 664.78 L1676.45 665.32 L1673.92 665.74 L1671.4 666.04 L1668.88 666.26 L1666.35 666.42 L1663.83 666.52 L1661.3 666.58 L1658.78 666.61 L1656.25 666.62 L1653.72 666.61 L1651.2 666.58 L1648.67 666.52 L1646.15 666.42 L1643.62 666.26 L1641.1 666.04 L1638.58 665.74 L1636.05 665.32 L1633.53 664.78 L1631 664.07 L1628.47 663.14 L1625.95 661.9 L1623.42 660.12 L1620.9 655.92Z"/>
<path d="M1688.4 655.92 L1691.01 652.16 L1693.63 650.79 L1696.24 649.92 L1698.86 649.33 L1701.47 648.94 L1704.09 648.67 L1706.7 648.5 L1709.31 648.41 L1711.93 648.37 L1714.54 648.36 L1717.16 648.37 L1719.77 648.39 L1722.39 648.41 L1725 648.42 L1727.61 648.41 L1730.23 648.39 L1732.84 648.37 L1735.46 648.36 L1738.07 648.37 L1740.69 648.41 L1743.3 648.5 L1745.91 648.67 L1748.53 648.94 L1751.14 649.33 L1753.76 649.92 L1756.37 650.79 L1758.99 652.16 L1761.6 655.92 L1761.6 655.92 L1758.99 660.12 L1756.37 661.9 L1753.76 663.14 L1751.14 664.07 L1748.53 664.78 L1745.91 665.32 L1743.3 665.74 L1740.69 666.04 L1738.07 666.26 L1735.46 666.42 L1732.84 666.52 L1730.23 666.58 L1727.61 666.61 L1725 666.62 L1722.39 666.61 L1719.77 666.58 L1717.16 666.52 L1714.54 666.42 L1711.93 666.26 L1709.31 666.04 L1706.7 665.74 L1704.09 665.32 L1701.47 664.78 L1698.86 664.07 L1696.24 663.14 L1693.63 661.9 L1691.01 660.12 L1688.4 655.92Z"/>
<path d="M1758.4 655.92 L1760.91 652.16 L1763.41 650.79 L1765.92 649.92 L1768.43 649.33 L1770.94 648.94 L1773.44 648.67 L1775.95 648.5 L1778.46 648.41 L1780.96 648.37 L1783.47 648.36 L1785.98 648.37 L1788.49 648.39 L1790.99 648.41 L1793.5 648.42 L1796.01 648.41 L1798.51 648.39 L1801.02 648.37 L1803.53 648.36 L1806.04 648.37 L1808.54 648.41 L1811.05 648.5 L1813.56 648.67 L1816.06 648.94 L1818.57 649.33 L1821.08 649.92 L1823.59 650.79 L1826.09 652.16 L1828.6 655.92 L1828.6 655.92 L1826.09 660.12 L1823.59 661.9 L1821.08 663.14 L1818.57 664.07 L1816.06 664.78 L1813.56 665.32 L1811.05 665.74 L1808.54 666.04 L1806.04 666.26 L1803.53 666.42 L1801.02 666.52 L1798.51 666.58 L1796.01 666.61 L1793.5 666.62 L1790.99 666.61 L1788.49 666.58 L1785.98 666.52 L1783.47 666.42 L1780.96 666.26 L1778.46 666.04 L1775.95 665.74 L1773.44 665.32 L1770.94 664.78 L1768.43 664.07 L1765.92 663.14 L1763.41 661.9 L1760.91 660.12 L1758.4 655.92Z"/>
<path d="M1825.4 655.02 L1827.92 651.21 L1830.45 649.8 L1832.97 648.89 L1835.5 648.26 L1838.03 647.82 L1840.55 647.51 L1843.08 647.3 L1845.6 647.17 L1848.12 647.08 L1850.65 647.03 L1853.17 647 L1855.7 646.98 L1858.22 646.96 L1860.75 646.92 L1863.28 646.87 L1865.8 646.81 L1868.33 646.74 L1870.85 646.69 L1873.38 646.65 L1875.9 646.65 L1878.42 646.7 L1880.95 646.83 L1883.47 647.05 L1886 647.41 L1888.53 647.95 L1891.05 648.77 L1893.58 650.1 L1896.1 653.82 L1896.1 653.82 L1893.58 658.07 L1891.05 659.89 L1888.53 661.17 L1886 662.14 L1883.47 662.9 L1880.95 663.48 L1878.42 663.94 L1875.9 664.28 L1873.38 664.55 L1870.85 664.75 L1868.33 664.89 L1865.8 664.99 L1863.28 665.07 L1860.75 665.12 L1858.22 665.15 L1855.7 665.17 L1853.17 665.15 L1850.65 665.09 L1848.12 664.98 L1845.6 664.8 L1843.08 664.54 L1840.55 664.17 L1838.03 663.67 L1835.5 663 L1832.97 662.12 L1830.45 660.92 L1827.92 659.18 L1825.4 655.02Z"/>
<path d="M1892.9 654.02 L1895.96 650.07 L1899.02 648.52 L1902.08 647.46 L1905.14 646.69 L1908.2 646.11 L1911.26 645.66 L1914.33 645.3 L1917.39 645.02 L1920.45 644.8 L1923.51 644.6 L1926.57 644.43 L1929.63 644.27 L1932.69 644.1 L1935.75 643.92 L1938.81 643.73 L1941.87 643.52 L1944.93 643.32 L1947.99 643.12 L1951.05 642.94 L1954.11 642.8 L1957.17 642.7 L1960.24 642.69 L1963.3 642.76 L1966.36 642.98 L1969.42 643.38 L1972.48 644.06 L1975.54 645.24 L1978.6 648.82 L1978.6 648.82 L1975.54 653.21 L1972.48 655.17 L1969.42 656.6 L1966.36 657.72 L1963.3 658.61 L1960.24 659.34 L1957.17 659.94 L1954.11 660.43 L1951.05 660.84 L1947.99 661.18 L1944.93 661.46 L1941.87 661.71 L1938.81 661.93 L1935.75 662.12 L1932.69 662.3 L1929.63 662.45 L1926.57 662.58 L1923.51 662.66 L1920.45 662.69 L1917.39 662.66 L1914.33 662.54 L1911.26 662.31 L1908.2 661.95 L1905.14 661.43 L1902.08 660.69 L1899.02 659.63 L1895.96 658.04 L1892.9 654.02Z"/>
</g>
<g filter="url(#ft)" fill="#000">
<rect x="343.6" y="616.5" width="57" height="2" opacity="0.2"/>
<rect x="424.6" y="616.5" width="48.8" height="2" opacity="0.15"/>
<rect x="497.4" y="616.5" width="46.1" height="2" opacity="0.18"/>
<rect x="567.5" y="616.5" width="41.9" height="2" opacity="0.3"/>
</g>
<circle cx="354" cy="450.8" r="2.4" fill="#666"/><circle cx="788" cy="614.5" r="2.6" fill="#222"/><circle cx="835" cy="615" r="1.5" fill="#444"/><circle cx="867" cy="615" r="1.5" fill="#555"/><circle cx="1768" cy="486" r="2" fill="#555"/>
</g>
<!-- panel letters -->
<path fill-rule="evenodd" d="M258.3 74 L267.3 74 L283.9 119.1 L274.5 119.1 L271.1 109.6 L254.6 109.6 L251.5 119.1 L242 119.1 Z M262.9 85.2 L268.9 102 L256.8 102 Z"/>
<path fill-rule="evenodd" d="M281 796.8 H298 C308 796.8 314.2 801.5 314.2 808.9 C314.2 813.5 311.5 816.8 306.8 818.4 C312.5 820 315.1 824 315.1 829.2 C315.1 837 309 841.8 298 841.8 H281 Z M290 804.1 H297.5 C302 804.1 304.5 806 304.5 809.8 C304.5 813.6 302 815.5 297.5 815.5 H290 Z M290 821.9 H298.5 C303.3 821.9 305.9 824 305.9 828.2 C305.9 832.4 303.3 834.5 298.5 834.5 H290 Z"/>
<path fill-rule="evenodd" d="M1623 795.6 C1634.53 795.6 1641.6 804.55 1641.6 819.15 C1641.6 833.75 1634.53 842.7 1623 842.7 C1611.47 842.7 1604.4 833.75 1604.4 819.15 C1604.4 804.55 1611.47 795.6 1623 795.6 Z M1623.4 803.2 C1629.74 803.2 1633 808.64 1633 819.2 C1633 829.76 1629.74 835.2 1623.4 835.2 C1617.06 835.2 1613.8 829.76 1613.8 819.2 C1613.8 808.64 1617.06 803.2 1623.4 803.2 Z"/>
<rect x="1623.4" y="811.8" width="22" height="15.2" fill="#fff"/>
<!-- group headers -->
<text transform="matrix(0.4747 0 0 0.4752 445.13 98.2)" font-weight="normal" fill="#000">Control</text>
<text transform="matrix(0.4834 0 0 0.4738 880.31 99)" font-weight="normal" fill="#000">LPS</text>
<text transform="matrix(0.4778 0 0 0.4780 1240.06 99.3)" font-weight="normal" fill="#000">LPS + EDR</text>
<text transform="matrix(0.4766 0 0 0.4780 1654.57 101.9)" font-weight="normal" fill="#000">LPS + CUR</text>
<rect x="338.4" y="125.9" width="395.4" height="6.4" fill="#000"/>
<rect x="764.4" y="125.9" width="395.6" height="6.4" fill="#000"/>
<rect x="1173" y="125.9" width="395" height="6.4" fill="#000"/>
<rect x="1586" y="125.9" width="395.6" height="6.4" fill="#000"/>
<!-- band labels -->
<g transform="matrix(0.4780 0 0 0.4709 2110.89 286.1)"><text font-weight="normal" fill="#000">52 kDa PINK1</text>
<rect x="583.1" y="-12" width="19.5" height="14" fill="#fff"/><rect x="612.6" y="-12" width="19" height="14" fill="#fff"/>
</g>
<text transform="matrix(0.4737 0 0 0.4766 2100.23 387.5)" font-weight="normal" fill="#000">42 kDa β-actin</text>
<text transform="matrix(0.4723 0 0 0.4681 2109.94 522.3)" font-weight="normal" fill="#000">45-50 kDa parkin</text>
<text transform="matrix(0.4718 0 0 0.4738 2104.94 661)" font-weight="normal" fill="#000">42 kDa β-actin</text>
<rect x="1993" y="265" width="102.3" height="6.6" fill="#000"/>
<rect x="1993" y="362.2" width="102.3" height="6.6" fill="#000"/>
<rect x="1993" y="498.7" width="102.3" height="6.6" fill="#000"/>
<rect x="1993" y="638.2" width="102.3" height="6.6" fill="#000"/>
<!-- chart B : PINK1 -->
<rect x="382.1" y="1455.6" width="133.6" height="337.6" fill="#000"/>
<rect x="582.3" y="1308.3" width="132.3" height="484.9" fill="#a00000"/>
<rect x="781" y="1222" width="134" height="571.2" fill="#000080"/>
<rect x="981.7" y="1353.8" width="132" height="439.4" fill="#c2c200"/>
<rect x="446.8" y="1431" width="4.2" height="25.6" fill="#000"/>
<rect x="415.5" y="1428.9" width="66.8" height="4.2" fill="#000"/>
<rect x="646.35" y="1273" width="4.2" height="36.3" fill="#a00000"/>
<rect x="615.05" y="1270.9" width="66.8" height="4.2" fill="#a00000"/>
<rect x="845.9" y="1178.8" width="4.2" height="44.2" fill="#000080"/>
<rect x="814.6" y="1176.7" width="66.8" height="4.2" fill="#000080"/>
<rect x="1045.6" y="1291.3" width="4.2" height="63.5" fill="#c2c200"/>
<rect x="1014.3" y="1289.2" width="66.8" height="4.2" fill="#c2c200"/>
<rect x="311.4" y="945.8" width="9.1" height="850.9" fill="#000"/>
<rect x="280" y="1789.7" width="905.6" height="7" fill="#000"/>
<rect x="280" y="945.8" width="32.4" height="8.6" fill="#000"/>
<rect x="280" y="1114.42" width="32.4" height="8.6" fill="#000"/>
<rect x="280" y="1283.04" width="32.4" height="8.6" fill="#000"/>
<rect x="280" y="1451.66" width="32.4" height="8.6" fill="#000"/>
<rect x="280" y="1620.28" width="32.4" height="8.6" fill="#000"/>
<rect x="445.4" y="1795.7" width="7" height="32.5" fill="#000"/>
<rect x="644.95" y="1795.7" width="7" height="32.5" fill="#000"/>
<rect x="844.5" y="1795.7" width="7" height="32.5" fill="#000"/>
<rect x="1044.2" y="1795.7" width="7" height="32.5" fill="#000"/>
<text transform="matrix(0.6050 0 0 0.5908 186.48 968.11)" font-weight="normal" fill="#000">2.5</text>
<text transform="matrix(0.6050 0 0 0.5908 186.33 1136.73)" font-weight="normal" fill="#000">2.0</text>
<g transform="matrix(0.6050 0 0 0.5993 186.48 1305.34)"><text font-weight="normal" fill="#000">1.5</text>
<rect x="5" y="-12" width="19.5" height="14" fill="#fff"/><rect x="34.5" y="-12" width="19" height="14" fill="#fff"/>
</g>
<g transform="matrix(0.6050 0 0 0.5908 186.32 1473.97)"><text font-weight="normal" fill="#000">1.0</text>
<rect x="5" y="-12" width="19.5" height="14" fill="#fff"/><rect x="34.5" y="-12" width="19" height="14" fill="#fff"/>
</g>
<text transform="matrix(0.6050 0 0 0.5908 186.48 1642.59)" font-weight="normal" fill="#000">0.5</text>
<text transform="matrix(0.6050 0 0 0.5908 186.33 1811.21)" font-weight="normal" fill="#000">0.0</text>
<rect x="445.3" y="1084.8" width="411.3" height="8.1" fill="#000"/>
<rect x="445.3" y="1084.8" width="7.1" height="38.6" fill="#000"/>
<rect x="849.5" y="1084.8" width="7.1" height="38.6" fill="#000"/>
<g transform="matrix(0.5780 0 0 0.6153 665.23 898.4)"><text font-weight="normal" fill="#000">PINK1</text>
<rect x="238.4" y="-12" width="19.5" height="14" fill="#fff"/><rect x="267.9" y="-12" width="19" height="14" fill="#fff"/>
</g>
<text transform="matrix(0.6704 0 0 0.5971 623.53 1088.85)" font-weight="normal" fill="#000">*</text>
<text transform="matrix(0.6704 0 0 0.5971 656.53 1088.85)" font-weight="normal" fill="#000">*</text>
<text transform="matrix(0.6040 0 0 0.5915 351.98 1888.2)" font-weight="normal" fill="#000">Control</text>
<text transform="matrix(0.6094 0 0 0.5943 589.57 1888.2)" font-weight="normal" fill="#000">LPS</text>
<text transform="matrix(0.6054 0 0 0.5943 781.61 1888.2)" font-weight="normal" fill="#000">LPS</text>
<text transform="matrix(0.6044 0 0 0.5964 766.98 1953.3)" font-weight="normal" fill="#000">+EDR</text>
<text transform="matrix(0.5997 0 0 0.5943 981.35 1888.2)" font-weight="normal" fill="#000">LPS</text>
<text transform="matrix(0.6070 0 0 0.5950 964.97 1953.3)" font-weight="normal" fill="#000">+CUR</text>
<text transform="translate(60.3 1707.67) rotate(-90) scale(0.5900 0.6199)">Normalised expression to</text>
<text transform="translate(142.7 1611.09) rotate(-90) scale(0.5981 0.6199)">β-actin in striatum</text>
<!-- chart C : Parkin -->
<rect x="1715.6" y="1371.5" width="133.6" height="420.5" fill="#000"/>
<rect x="1915.9" y="1183.6" width="131.9" height="608.4" fill="#000080"/>
<rect x="2114.8" y="1250.3" width="133.7" height="541.7" fill="#a00000"/>
<rect x="2314.8" y="1406.7" width="132.2" height="385.3" fill="#c2c200"/>
<rect x="1780.3" y="1331.2" width="4.2" height="41.3" fill="#000"/>
<rect x="1749" y="1329.1" width="66.8" height="4.2" fill="#000"/>
<rect x="1979.75" y="1149.2" width="4.2" height="35.4" fill="#000080"/>
<rect x="1948.45" y="1147.1" width="66.8" height="4.2" fill="#000080"/>
<rect x="2179.55" y="1215.8" width="4.2" height="35.5" fill="#a00000"/>
<rect x="2148.25" y="1213.7" width="66.8" height="4.2" fill="#a00000"/>
<rect x="2378.8" y="1362.7" width="4.2" height="45" fill="#c2c200"/>
<rect x="2347.5" y="1360.6" width="66.8" height="4.2" fill="#c2c200"/>
<rect x="1645.1" y="944.5" width="9.1" height="852" fill="#000"/>
<rect x="1613.7" y="1787.5" width="905.6" height="9" fill="#000"/>
<rect x="1613.7" y="944.5" width="32.4" height="8.8" fill="#000"/>
<rect x="1613.7" y="1155.27" width="32.4" height="8.8" fill="#000"/>
<rect x="1613.7" y="1366.05" width="32.4" height="8.8" fill="#000"/>
<rect x="1613.7" y="1576.82" width="32.4" height="8.8" fill="#000"/>
<rect x="1778.9" y="1795.5" width="7" height="32.7" fill="#000"/>
<rect x="1978.35" y="1795.5" width="7" height="32.7" fill="#000"/>
<rect x="2178.15" y="1795.5" width="7" height="32.7" fill="#000"/>
<rect x="2377.4" y="1795.5" width="7" height="32.7" fill="#000"/>
<text transform="matrix(0.6050 0 0 0.5908 1520.02 966.91)" font-weight="normal" fill="#000">2.0</text>
<g transform="matrix(0.6050 0 0 0.5993 1520.18 1177.68)"><text font-weight="normal" fill="#000">1.5</text>
<rect x="5" y="-12" width="19.5" height="14" fill="#fff"/><rect x="34.5" y="-12" width="19" height="14" fill="#fff"/>
</g>
<g transform="matrix(0.6050 0 0 0.5908 1520.03 1388.46)"><text font-weight="normal" fill="#000">1.0</text>
<rect x="5" y="-12" width="19.5" height="14" fill="#fff"/><rect x="34.5" y="-12" width="19" height="14" fill="#fff"/>
</g>
<text transform="matrix(0.6050 0 0 0.5908 1520.18 1599.23)" font-weight="normal" fill="#000">0.5</text>
<text transform="matrix(0.6050 0 0 0.5908 1520.03 1810.01)" font-weight="normal" fill="#000">0.0</text>
<rect x="1982.8" y="1076.1" width="402.7" height="7.3" fill="#000"/>
<rect x="1982.8" y="1076.1" width="8.9" height="33.2" fill="#000"/>
<rect x="2376.6" y="1076.1" width="8.9" height="33.2" fill="#000"/>
<text transform="matrix(0.6225 0 0 0.5872 1992.56 898.2)" font-weight="normal" fill="#000">Parkin</text>
<text transform="matrix(0.6704 0 0 0.6086 2165.03 1084.74)" font-weight="normal" fill="#000">*</text>
<text transform="matrix(0.6043 0 0 0.5915 1685.58 1888)" font-weight="normal" fill="#000">Control</text>
<text transform="matrix(0.6128 0 0 0.5929 1922.64 1887.8)" font-weight="normal" fill="#000">LPS</text>
<text transform="matrix(0.6026 0 0 0.5929 2123.83 1887.8)" font-weight="normal" fill="#000">LPS</text>
<text transform="matrix(0.6044 0 0 0.5978 2108.28 1952.4)" font-weight="normal" fill="#000">+EDR</text>
<text transform="matrix(0.6043 0 0 0.5929 2323.01 1887.8)" font-weight="normal" fill="#000">LPS</text>
<text transform="matrix(0.6062 0 0 0.5964 2306.57 1952.4)" font-weight="normal" fill="#000">+CUR</text>
<text transform="translate(1393.9 1706.17) rotate(-90) scale(0.5900 0.6199)">Normalised expression to</text>
<text transform="translate(1476.6 1609.59) rotate(-90) scale(0.5981 0.6199)">β-actin in striatum</text>
</g>
</svg>
</body></html>
